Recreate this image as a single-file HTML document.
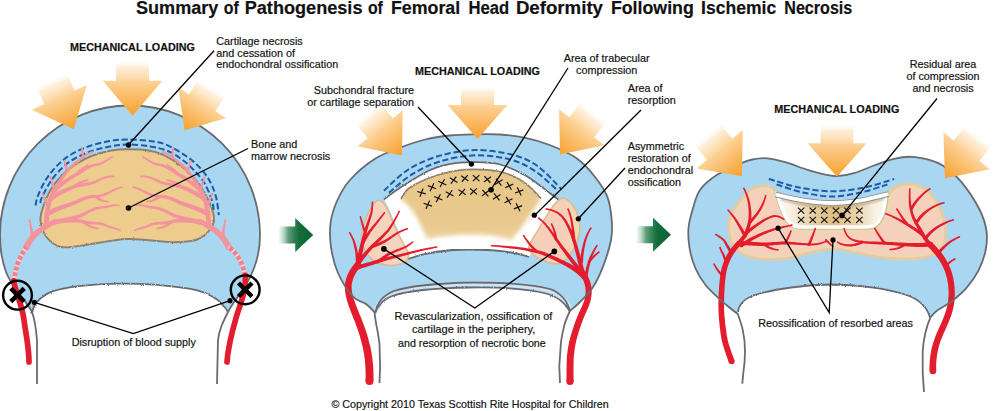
<!DOCTYPE html>
<html><head><meta charset="utf-8">
<style>
html,body{margin:0;padding:0;background:#fff;}
body{width:993px;height:411px;overflow:hidden;font-family:"Liberation Sans",sans-serif;}
svg{display:block}
text{font-family:"Liberation Sans",sans-serif;fill:#111;stroke:#111;stroke-width:0.18px}
.t{font-size:10.8px}
.b{font-size:11.2px;font-weight:bold}
.ol{fill:none;stroke:#686b70;stroke-width:1.8}
.ld{stroke:#000;stroke-width:1.3;fill:none}
.dash{fill:none;stroke:#1c5ca8;stroke-width:2;stroke-dasharray:6.2 2.8}
</style></head><body>
<svg width="993" height="411" viewBox="0 0 993 411">
<defs>
<linearGradient id="og" x1="0" y1="-56" x2="0" y2="0" gradientUnits="userSpaceOnUse">
<stop offset="0" stop-color="#fff" stop-opacity="0"/>
<stop offset="0.14" stop-color="#fdebd0" stop-opacity="0.8"/>
<stop offset="0.42" stop-color="#fccf90"/>
<stop offset="1" stop-color="#f8a02e"/>
</linearGradient>
<path id="oa" d="M0,0 L-29,-35 L-16,-35 L-16,-56 L16,-56 L16,-35 L29,-35 Z" fill="url(#og)"/>
<linearGradient id="gg" x1="0" y1="0" x2="36" y2="0" gradientUnits="userSpaceOnUse">
<stop offset="0" stop-color="#fff" stop-opacity="0"/>
<stop offset="0.08" stop-color="#cfe3d6" stop-opacity="0.5"/>
<stop offset="0.3" stop-color="#62a07c"/>
<stop offset="0.5" stop-color="#2b7d50"/>
<stop offset="0.62" stop-color="#146c3c"/>
<stop offset="1" stop-color="#0d6536"/>
</linearGradient>
<path id="ga" d="M0,-8.5 L18,-8.5 L18,-17 L36,0 L18,17 L18,8.500 L0,8.500 Z" fill="url(#gg)"/>
<filter id="fz" x="-5%" y="-5%" width="110%" height="110%">
<feTurbulence type="fractalNoise" baseFrequency="0.9" numOctaves="2" seed="3" result="n"/>
<feDisplacementMap in="SourceGraphic" in2="n" scale="2.2" xChannelSelector="R" yChannelSelector="G"/>
</filter>
<filter id="bl3" x="-10%" y="-10%" width="120%" height="120%"><feGaussianBlur stdDeviation="2.2"/></filter>
<filter id="bl1" x="-10%" y="-10%" width="120%" height="120%"><feGaussianBlur stdDeviation="1.2"/></filter>
</defs>
<rect width="993" height="411" fill="#fff"/>
<g style="font-size:17.6px;font-weight:bold;fill:#000;stroke:#000;stroke-width:0.4px"><text x="136" y="14.4" textLength="82.4" lengthAdjust="spacingAndGlyphs">Summary</text><text x="223.8" y="14.4" textLength="15.0" lengthAdjust="spacingAndGlyphs">of</text><text x="244.7" y="14.4" textLength="117.8" lengthAdjust="spacingAndGlyphs">Pathogenesis</text><text x="367.9" y="14.4" textLength="15.0" lengthAdjust="spacingAndGlyphs">of</text><text x="390.9" y="14.4" textLength="69.3" lengthAdjust="spacingAndGlyphs">Femoral</text><text x="468.4" y="14.4" textLength="40.7" lengthAdjust="spacingAndGlyphs">Head</text><text x="515.9" y="14.4" textLength="87.1" lengthAdjust="spacingAndGlyphs">Deformity</text><text x="610.9" y="14.4" textLength="82.9" lengthAdjust="spacingAndGlyphs">Following</text><text x="701.1" y="14.4" textLength="75.1" lengthAdjust="spacingAndGlyphs">Ischemic</text><text x="784.3" y="14.4" textLength="68.0" lengthAdjust="spacingAndGlyphs">Necrosis</text></g>
<g id="p1">
<path d="M32,312 C26,300 12,288 6,272 C2,261 0,248 0,235 A130,129.5 0 0 1 130,105.5 A130,129.5 0 0 1 260,235 C260,250 257,262 252,273 C246,288 234,300 228,312 Z" fill="#a9d6f1"/>
<path d="M32.0,313.0 C32.4,311.8 33.0,308.0 34.5,305.5 C36.0,303.0 38.0,300.4 41.0,298.0 C44.0,295.6 46.1,293.4 52.4,291.4 C58.7,289.4 67.7,287.5 78.6,286.2 C89.5,284.9 104.7,283.8 117.8,283.6 C130.9,283.4 144.0,283.8 157.1,284.9 C170.2,286.0 186.8,287.9 196.4,290.1 C206.1,292.3 210.3,295.2 215.0,298.0 C219.7,300.8 222.3,304.7 224.5,307.0 C226.7,309.3 227.4,311.2 228.0,312.0 L228,316 L32,316 Z" fill="#fff"/>
<path class="ol" filter="url(#fz)" d="M32.0,313.0 C32.4,311.8 33.0,308.0 34.5,305.5 C36.0,303.0 38.0,300.4 41.0,298.0 C44.0,295.6 46.1,293.4 52.4,291.4 C58.7,289.4 67.7,287.5 78.6,286.2 C89.5,284.9 104.7,283.8 117.8,283.6 C130.9,283.4 144.0,283.8 157.1,284.9 C170.2,286.0 186.8,287.9 196.4,290.1 C206.1,292.3 210.3,295.2 215.0,298.0 C219.7,300.8 222.3,304.7 224.5,307.0 C226.7,309.3 227.4,311.2 228.0,312.0"/>
<path class="ol" d="M37,384 L37,340 C36,328 35,320 32,312 C26,300 12,288 6,272 C2,261 0,248 0,235 A130,129.5 0 0 1 130,105.5 A130,129.5 0 0 1 260,235 C260,250 257,262 252,273 C246,288 234,300 228,312 C223,322 219,330 218,340 L217,384"/>
<path d="M42.8,207.9 C44.4,202.8 47.0,196.1 50.1,190.8 C53.2,185.5 56.8,180.6 61.1,176.2 C65.4,171.8 70.4,167.5 75.7,164.1 C81.0,160.7 87.0,157.7 92.7,155.5 C98.4,153.3 104.2,151.7 110.0,150.7 C115.8,149.7 120.8,149.3 127.5,149.3 C134.2,149.3 143.8,149.7 150.0,150.7 C156.2,151.7 159.3,152.9 164.6,155.5 C169.9,158.1 175.9,161.8 181.6,166.5 C187.3,171.2 194.0,177.4 198.7,183.5 C203.4,189.6 207.0,197.2 209.6,203.0 C212.2,208.8 213.8,213.7 214.0,218.0 C214.2,222.3 213.3,225.4 210.5,229.0 C207.7,232.6 203.5,237.3 197.0,239.5 C190.5,241.7 183.3,242.3 171.7,242.2 C160.1,242.1 142.2,238.5 127.5,239.0 C112.8,239.5 94.3,244.1 83.2,245.4 C72.1,246.7 67.2,248.3 61.1,247.0 C55.0,245.7 50.3,241.7 46.9,237.5 C43.5,233.3 41.2,226.6 40.5,221.7 C39.8,216.8 41.2,213.1 42.8,207.9 Z" fill="#edcc8e"/>
<path d="M42.8,207.9 C44.4,202.8 47.0,196.1 50.1,190.8 C53.2,185.5 56.8,180.6 61.1,176.2 C65.4,171.8 70.4,167.5 75.7,164.1 C81.0,160.7 87.0,157.7 92.7,155.5 C98.4,153.3 104.2,151.7 110.0,150.7 C115.8,149.7 120.8,149.3 127.5,149.3 C134.2,149.3 143.8,149.7 150.0,150.7 C156.2,151.7 159.3,152.9 164.6,155.5 C169.9,158.1 175.9,161.8 181.6,166.5 C187.3,171.2 194.0,177.4 198.7,183.5 C203.4,189.6 207.0,197.2 209.6,203.0 C212.2,208.8 213.8,213.7 214.0,218.0 C214.2,222.3 213.3,225.4 210.5,229.0 C207.7,232.6 203.5,237.3 197.0,239.5 C190.5,241.7 183.3,242.3 171.7,242.2 C160.1,242.1 142.2,238.5 127.5,239.0 C112.8,239.5 94.3,244.1 83.2,245.4 C72.1,246.7 67.2,248.3 61.1,247.0 C55.0,245.7 50.3,241.7 46.9,237.5 C43.5,233.3 41.2,226.6 40.5,221.7 C39.8,216.8 41.2,213.1 42.8,207.9 Z" fill="none" stroke="#8c8270" stroke-width="1.9" filter="url(#fz)"/>
<path class="dash" d="M35.5,205.4 C35.9,203.8 36.2,200.1 38.0,195.7 C39.8,191.2 43.0,184.0 46.5,178.7 C50.0,173.4 54.2,168.4 58.7,164.1 C63.2,159.8 68.0,156.1 73.3,153.1 C78.6,150.1 84.2,147.8 90.3,145.8 C96.4,143.8 103.8,142.1 110.0,141.0 C116.2,139.9 120.8,139.5 127.5,139.5 C134.2,139.5 143.8,140.2 150.0,141.0 C156.2,141.8 159.3,142.1 164.6,144.1 C169.9,146.1 176.3,149.8 181.6,153.1 C186.9,156.4 191.7,159.7 196.2,164.0 C200.7,168.3 205.2,173.4 208.4,178.7 C211.7,184.0 213.9,189.6 215.7,195.7 C217.4,201.8 218.4,211.9 218.9,215.2"/>
<path class="dash" d="M40.4,203.0 C40.6,202.2 40.0,201.5 41.6,198.1 C43.2,194.7 46.7,187.4 50.1,182.3 C53.5,177.2 58.0,171.8 62.3,167.7 C66.6,163.6 70.6,160.8 75.7,158.0 C80.8,155.2 87.0,152.6 92.7,150.7 C98.4,148.8 104.2,147.5 110.0,146.5 C115.8,145.5 120.8,144.5 127.5,144.5 C134.2,144.5 143.4,145.5 150.0,146.5 C156.6,147.5 161.7,148.6 167.0,150.7 C172.3,152.8 177.1,156.0 181.6,159.2 C186.1,162.4 190.0,166.0 193.8,170.1 C197.7,174.2 201.7,178.4 204.7,183.5 C207.7,188.6 210.5,196.1 212.0,200.6 C213.5,205.1 213.4,208.7 213.7,210.3"/>
<g fill="#f3949d"><path d="M29.0,248.5 L29.8,247.0 L30.5,245.7 L31.3,244.4 L32.1,243.1 L32.8,241.9 L33.6,240.8 L34.5,239.7 L35.3,238.6 L36.1,237.6 L37.0,236.7 L37.9,235.8 L38.8,234.9 L39.8,234.0 L40.7,233.2 L41.6,232.5 L42.7,231.8 L43.7,231.1 L44.8,230.4 L45.8,229.7 L46.9,229.0 L48.0,228.4 L49.0,227.7 L50.1,227.1 L51.2,226.4 L52.4,225.8 L53.5,225.2 L54.7,224.6 L55.9,224.0 L53.7,219.4 L52.4,220.0 L51.2,220.6 L50.0,221.3 L48.8,221.9 L47.6,222.5 L46.4,223.1 L45.2,223.8 L44.1,224.5 L43.0,225.1 L41.8,225.8 L40.7,226.5 L39.6,227.2 L38.5,228.0 L37.3,228.8 L36.1,229.7 L35.0,230.7 L33.9,231.7 L32.9,232.7 L31.9,233.8 L30.9,234.9 L29.9,236.1 L28.9,237.3 L28.0,238.5 L27.1,239.8 L26.2,241.2 L25.3,242.6 L24.4,244.0 L23.6,245.5Z"/><circle cx="26.3" cy="247.0" r="3.08"/><circle cx="54.8" cy="221.7" r="2.52"/>
<path d="M48.5,226.7 L48.6,225.1 L48.7,223.5 L48.8,221.9 L48.9,220.4 L49.0,218.9 L49.1,217.4 L49.2,215.9 L49.3,214.5 L49.5,213.1 L49.6,211.7 L49.8,210.3 L50.0,209.0 L50.3,207.7 L50.5,206.4 L50.8,205.0 L51.1,203.6 L51.5,202.3 L51.8,201.1 L52.2,199.9 L52.6,198.7 L53.0,197.6 L53.4,196.6 L53.9,195.5 L54.3,194.6 L54.8,193.6 L55.3,192.8 L55.8,191.9 L56.4,190.9 L57.2,189.4 L58.0,187.9 L58.8,186.5 L59.6,185.1 L60.4,183.7 L61.2,182.4 L62.0,181.0 L62.9,179.7 L63.8,178.4 L64.7,177.1 L65.6,175.8 L66.6,174.5 L67.5,173.2 L68.5,171.9 L69.5,170.8 L70.5,169.7 L71.5,168.6 L72.5,167.5 L73.6,166.4 L74.6,165.4 L75.7,164.4 L76.8,163.4 L78.0,162.4 L79.1,161.5 L80.3,160.5 L81.5,159.6 L82.6,158.7 L83.8,157.8 L84.4,157.4 L85.0,157.0 L85.6,156.6 L86.2,156.2 L86.8,155.8 L87.4,155.5 L88.1,155.1 L88.7,154.7 L89.4,154.4 L90.0,154.0 L90.7,153.6 L91.4,153.3 L92.1,153.0 L92.9,152.6 L92.1,151.0 L91.4,151.3 L90.6,151.6 L89.9,151.9 L89.2,152.3 L88.5,152.6 L87.8,153.0 L87.1,153.3 L86.4,153.7 L85.8,154.1 L85.1,154.4 L84.5,154.8 L83.8,155.2 L83.2,155.6 L82.6,156.0 L81.3,156.9 L80.1,157.8 L78.9,158.7 L77.6,159.6 L76.4,160.5 L75.2,161.5 L74.0,162.5 L72.9,163.5 L71.7,164.5 L70.6,165.5 L69.5,166.6 L68.4,167.7 L67.3,168.9 L66.3,170.1 L65.2,171.4 L64.2,172.6 L63.1,173.9 L62.1,175.2 L61.2,176.5 L60.2,177.9 L59.3,179.2 L58.3,180.6 L57.4,181.9 L56.6,183.3 L55.7,184.7 L54.8,186.2 L54.0,187.6 L53.2,189.1 L52.6,189.9 L52.0,190.8 L51.4,191.8 L50.9,192.8 L50.3,193.9 L49.8,195.0 L49.3,196.1 L48.8,197.3 L48.4,198.5 L47.9,199.8 L47.5,201.1 L47.1,202.5 L46.7,203.9 L46.3,205.4 L46.0,206.8 L45.7,208.2 L45.4,209.6 L45.2,211.0 L44.9,212.5 L44.7,213.9 L44.5,215.4 L44.4,216.9 L44.2,218.5 L44.0,220.0 L43.9,221.6 L43.8,223.1 L43.6,224.7 L43.5,226.3Z"/><circle cx="46.0" cy="226.5" r="2.52"/><circle cx="92.5" cy="151.8" r="0.91"/>
<path d="M49.6,205.3 L49.1,204.5 L48.5,203.6 L48.0,202.8 L47.5,202.0 L47.0,201.1 L46.6,200.3 L46.1,199.5 L45.7,198.6 L45.2,197.7 L44.8,196.9 L44.4,196.0 L44.0,195.1 L43.6,194.2 L43.3,193.2 L41.7,193.8 L42.0,194.7 L42.3,195.7 L42.7,196.7 L43.0,197.6 L43.4,198.6 L43.7,199.5 L44.1,200.4 L44.5,201.3 L44.9,202.2 L45.4,203.1 L45.8,204.0 L46.3,204.9 L46.7,205.8 L47.2,206.7Z"/><circle cx="48.4" cy="206.0" r="1.40"/><circle cx="42.5" cy="193.5" r="0.80"/>
<path d="M56.1,189.5 L55.7,188.5 L55.3,187.5 L54.9,186.5 L54.5,185.5 L54.1,184.6 L53.7,183.7 L53.4,182.8 L53.0,181.9 L52.7,181.0 L52.4,180.2 L52.1,179.3 L51.8,178.5 L51.5,177.6 L51.3,176.8 L49.7,177.2 L49.9,178.1 L50.1,179.0 L50.3,179.8 L50.6,180.7 L50.8,181.6 L51.1,182.5 L51.3,183.5 L51.6,184.4 L51.9,185.4 L52.2,186.3 L52.5,187.3 L52.8,188.4 L53.1,189.4 L53.5,190.5Z"/><circle cx="54.8" cy="190.0" r="1.40"/><circle cx="50.5" cy="177.0" r="0.80"/>
<path d="M68.7,170.5 L68.4,169.7 L68.1,168.9 L67.7,168.1 L67.5,167.3 L67.2,166.6 L66.9,165.8 L66.6,165.1 L66.4,164.4 L66.2,163.7 L66.0,163.0 L65.8,162.3 L65.6,161.6 L65.4,161.0 L65.3,160.4 L63.7,160.6 L63.8,161.3 L63.9,162.0 L64.0,162.7 L64.1,163.4 L64.3,164.1 L64.4,164.9 L64.6,165.7 L64.8,166.4 L64.9,167.2 L65.1,168.1 L65.4,168.9 L65.6,169.7 L65.8,170.6 L66.1,171.5Z"/><circle cx="67.4" cy="171.0" r="1.40"/><circle cx="64.5" cy="160.5" r="0.80"/>
<path d="M84.4,156.6 L84.3,155.9 L84.1,155.2 L83.9,154.6 L83.8,153.9 L83.6,153.2 L83.5,152.6 L83.3,151.9 L83.2,151.3 L83.1,150.6 L83.0,150.0 L83.0,149.4 L82.9,148.7 L82.8,148.1 L82.8,147.5 L81.2,147.5 L81.2,148.2 L81.2,148.8 L81.2,149.5 L81.2,150.2 L81.2,150.8 L81.3,151.5 L81.3,152.2 L81.4,152.9 L81.5,153.6 L81.6,154.3 L81.6,155.0 L81.7,155.7 L81.9,156.4 L82.0,157.2Z"/><circle cx="83.2" cy="156.9" r="1.26"/><circle cx="82.0" cy="147.5" r="0.80"/>
<path d="M33.7,238.0 L33.6,236.7 L33.5,235.4 L33.4,234.0 L33.2,232.7 L33.0,231.4 L32.8,230.1 L32.5,228.8 L32.3,227.5 L32.0,226.2 L31.7,224.9 L31.4,223.7 L31.0,222.4 L30.7,221.1 L30.3,219.8 L28.7,220.2 L29.0,221.5 L29.2,222.8 L29.4,224.1 L29.6,225.3 L29.8,226.6 L29.9,227.9 L30.1,229.2 L30.2,230.5 L30.3,231.7 L30.3,233.0 L30.4,234.2 L30.4,235.5 L30.4,236.8 L30.3,238.0Z"/><circle cx="32.0" cy="238.0" r="1.68"/><circle cx="29.5" cy="220.0" r="0.80"/>
<path d="M56.3,191.6 L57.6,190.3 L59.0,189.1 L60.4,187.8 L61.8,186.6 L63.3,185.4 L64.8,184.2 L66.3,183.1 L67.9,181.9 L69.5,180.8 L71.1,179.7 L72.8,178.7 L74.4,177.6 L76.0,176.6 L77.7,175.7 L79.0,174.9 L80.3,174.1 L81.6,173.3 L82.8,172.4 L84.0,171.6 L85.2,170.8 L86.5,170.0 L87.7,169.2 L89.0,168.5 L90.3,167.9 L91.6,167.3 L93.0,166.8 L94.5,166.3 L96.0,166.0 L97.3,165.8 L98.7,165.4 L100.0,165.0 L101.3,164.5 L102.5,163.9 L103.7,163.3 L104.8,162.6 L106.0,161.9 L107.1,161.2 L108.2,160.5 L109.3,159.8 L110.3,159.1 L111.4,158.4 L112.4,157.7 L111.6,156.3 L110.5,156.9 L109.4,157.6 L108.3,158.2 L107.2,158.9 L106.1,159.6 L105.0,160.2 L103.9,160.8 L102.7,161.4 L101.6,161.9 L100.4,162.4 L99.3,162.8 L98.1,163.1 L96.9,163.4 L95.6,163.6 L93.9,163.9 L92.2,164.3 L90.7,164.8 L89.2,165.4 L87.7,166.0 L86.3,166.8 L85.0,167.5 L83.7,168.3 L82.4,169.1 L81.1,169.9 L79.9,170.6 L78.6,171.4 L77.4,172.1 L76.1,172.7 L74.4,173.7 L72.6,174.6 L70.9,175.6 L69.2,176.6 L67.5,177.7 L65.8,178.8 L64.1,179.9 L62.4,181.0 L60.8,182.2 L59.2,183.4 L57.7,184.6 L56.1,185.8 L54.7,187.1 L53.3,188.4Z"/><circle cx="54.8" cy="190.0" r="2.24"/><circle cx="112.0" cy="157.0" r="0.84"/>
<path d="M51.9,200.9 L53.3,199.8 L54.7,198.8 L56.1,197.8 L57.6,196.9 L59.2,195.9 L60.8,195.0 L62.4,194.1 L64.1,193.2 L65.7,192.4 L67.4,191.6 L69.2,190.8 L70.9,190.0 L72.6,189.3 L74.3,188.6 L76.0,188.0 L77.6,187.5 L79.2,187.1 L80.8,186.8 L82.5,186.4 L84.1,186.2 L85.7,185.9 L87.3,185.5 L89.0,185.2 L90.7,184.8 L92.4,184.3 L94.1,183.7 L95.8,183.0 L97.5,182.1 L98.8,181.5 L100.0,180.8 L101.2,180.3 L102.4,179.7 L103.5,179.3 L104.7,178.8 L105.8,178.4 L106.9,178.1 L108.1,177.8 L109.2,177.6 L110.3,177.4 L111.5,177.3 L112.7,177.3 L114.0,177.3 L114.0,175.7 L112.8,175.6 L111.5,175.5 L110.2,175.6 L108.9,175.7 L107.7,175.9 L106.4,176.1 L105.2,176.4 L104.0,176.8 L102.8,177.2 L101.5,177.7 L100.3,178.2 L99.0,178.7 L97.7,179.3 L96.5,179.9 L94.8,180.6 L93.2,181.2 L91.6,181.7 L90.0,182.0 L88.4,182.4 L86.8,182.6 L85.2,182.9 L83.6,183.1 L81.9,183.3 L80.3,183.6 L78.5,183.9 L76.8,184.2 L75.0,184.7 L73.1,185.2 L71.3,185.9 L69.5,186.5 L67.7,187.3 L65.9,188.0 L64.1,188.8 L62.3,189.5 L60.5,190.4 L58.8,191.2 L57.1,192.1 L55.4,193.1 L53.7,194.0 L52.1,195.0 L50.6,196.0 L49.1,197.1Z"/><circle cx="50.5" cy="199.0" r="2.38"/><circle cx="114.0" cy="176.5" r="0.84"/>
<path d="M48.2,216.2 L49.7,215.3 L51.2,214.5 L52.7,213.7 L54.2,213.0 L55.8,212.2 L57.4,211.5 L59.0,210.8 L60.7,210.1 L62.4,209.4 L64.1,208.7 L65.8,208.1 L67.6,207.4 L69.4,206.8 L71.2,206.2 L73.1,205.5 L74.9,204.7 L76.6,203.9 L78.3,203.1 L80.0,202.3 L81.7,201.5 L83.3,200.7 L85.0,200.0 L86.7,199.4 L88.4,198.8 L90.1,198.4 L91.9,198.1 L93.8,197.9 L95.8,197.8 L97.9,197.7 L99.9,197.3 L101.9,196.8 L103.9,196.1 L105.8,195.3 L107.6,194.4 L109.5,193.5 L111.3,192.5 L113.1,191.6 L114.9,190.7 L116.7,189.8 L118.5,189.0 L120.3,188.4 L122.2,187.8 L121.8,186.2 L119.8,186.7 L117.9,187.3 L115.9,188.0 L114.1,188.8 L112.2,189.7 L110.3,190.6 L108.5,191.5 L106.6,192.3 L104.8,193.1 L103.0,193.7 L101.2,194.3 L99.4,194.7 L97.6,194.9 L95.8,195.0 L93.7,194.9 L91.6,195.1 L89.5,195.3 L87.6,195.8 L85.7,196.3 L83.8,196.9 L82.0,197.6 L80.3,198.3 L78.5,199.0 L76.8,199.8 L75.1,200.5 L73.4,201.2 L71.7,201.8 L70.0,202.4 L68.1,203.0 L66.3,203.5 L64.5,204.1 L62.7,204.7 L60.9,205.3 L59.1,205.9 L57.4,206.6 L55.6,207.2 L53.9,207.9 L52.2,208.6 L50.6,209.4 L48.9,210.2 L47.3,211.0 L45.8,211.8Z"/><circle cx="47.0" cy="214.0" r="2.52"/><circle cx="122.0" cy="187.0" r="0.84"/>
<path d="M52.6,225.3 L54.3,224.8 L56.0,224.4 L57.7,223.9 L59.5,223.4 L61.3,223.0 L63.0,222.5 L64.8,222.0 L66.6,221.6 L68.4,221.1 L70.2,220.6 L72.0,220.1 L73.7,219.6 L75.5,219.1 L77.4,218.6 L79.3,218.0 L81.1,217.3 L82.9,216.4 L84.6,215.5 L86.3,214.6 L88.0,213.7 L89.6,212.8 L91.3,212.0 L93.0,211.2 L94.7,210.4 L96.5,209.8 L98.3,209.3 L100.2,208.9 L102.3,208.6 L103.8,208.5 L105.2,208.2 L106.6,208.0 L107.9,207.7 L109.1,207.3 L110.3,207.0 L111.5,206.7 L112.6,206.5 L113.7,206.2 L114.8,206.1 L115.8,206.0 L116.8,206.0 L117.8,206.1 L118.8,206.3 L119.2,204.7 L118.1,204.4 L116.9,204.2 L115.8,204.2 L114.6,204.2 L113.4,204.3 L112.2,204.5 L111.1,204.7 L109.9,205.0 L108.6,205.3 L107.4,205.5 L106.1,205.8 L104.8,206.0 L103.5,206.1 L102.1,206.2 L99.9,206.4 L97.8,206.7 L95.7,207.2 L93.7,207.8 L91.9,208.5 L90.0,209.3 L88.3,210.1 L86.5,211.0 L84.8,211.8 L83.2,212.6 L81.5,213.4 L79.8,214.0 L78.1,214.7 L76.4,215.2 L74.7,215.5 L72.8,216.0 L71.0,216.4 L69.2,216.8 L67.4,217.2 L65.6,217.6 L63.8,217.9 L62.0,218.3 L60.2,218.7 L58.4,219.1 L56.7,219.5 L54.9,219.9 L53.2,220.3 L51.4,220.7Z"/><circle cx="52.0" cy="223.0" r="2.38"/><circle cx="119.0" cy="205.5" r="0.84"/>
<path d="M55.0,223.9 L57.0,223.7 L59.0,223.5 L61.0,223.3 L63.0,223.1 L65.0,222.9 L67.1,222.7 L69.1,222.6 L71.1,222.5 L73.1,222.4 L75.1,222.4 L77.0,222.5 L79.0,222.7 L80.9,222.9 L82.8,223.3 L84.7,223.7 L86.6,224.0 L88.5,224.2 L90.2,224.3 L91.9,224.4 L93.6,224.5 L95.2,224.5 L96.7,224.6 L98.3,224.7 L99.7,224.9 L101.2,225.1 L102.6,225.5 L104.1,225.9 L105.5,226.5 L106.6,227.0 L107.7,227.5 L108.9,227.8 L110.0,228.2 L111.0,228.4 L112.1,228.7 L113.1,229.0 L114.1,229.2 L115.1,229.5 L116.1,229.7 L117.0,230.0 L117.9,230.4 L118.7,230.8 L119.6,231.2 L120.4,229.8 L119.5,229.2 L118.6,228.8 L117.6,228.3 L116.6,228.0 L115.6,227.6 L114.6,227.3 L113.6,227.0 L112.6,226.8 L111.6,226.5 L110.6,226.1 L109.5,225.8 L108.5,225.4 L107.5,225.0 L106.5,224.5 L104.9,223.7 L103.4,223.1 L101.8,222.7 L100.2,222.3 L98.6,222.1 L97.0,221.9 L95.4,221.8 L93.7,221.6 L92.1,221.5 L90.5,221.4 L88.8,221.2 L87.1,220.9 L85.4,220.6 L83.6,220.1 L81.5,219.6 L79.4,219.3 L77.3,219.0 L75.2,218.8 L73.1,218.7 L71.0,218.7 L68.9,218.7 L66.8,218.7 L64.7,218.8 L62.7,218.9 L60.6,219.1 L58.6,219.2 L56.6,219.3 L54.6,219.5Z"/><circle cx="54.8" cy="221.7" r="2.24"/><circle cx="120.0" cy="230.5" r="0.84"/>
<path d="M78.1,175.2 L78.7,174.4 L79.3,173.6 L80.0,172.9 L80.7,172.2 L81.4,171.4 L82.1,170.7 L82.8,170.1 L83.6,169.4 L84.4,168.7 L85.2,168.1 L86.0,167.5 L86.8,166.9 L87.6,166.3 L88.4,165.7 L87.6,164.3 L86.7,164.8 L85.8,165.3 L84.9,165.9 L84.0,166.4 L83.1,167.0 L82.2,167.6 L81.4,168.2 L80.5,168.9 L79.7,169.5 L78.8,170.2 L78.0,170.9 L77.2,171.7 L76.5,172.4 L75.7,173.2Z"/><circle cx="76.9" cy="174.2" r="1.54"/><circle cx="88.0" cy="165.0" r="0.80"/>
<path d="M94.8,197.5 L95.5,198.2 L96.3,198.8 L97.2,199.4 L98.0,199.9 L98.9,200.4 L99.8,200.8 L100.8,201.2 L101.7,201.5 L102.7,201.8 L103.7,202.0 L104.8,202.2 L105.8,202.3 L106.9,202.3 L108.0,202.3 L108.0,200.7 L107.0,200.6 L106.0,200.5 L105.1,200.3 L104.2,200.0 L103.3,199.7 L102.5,199.4 L101.7,199.0 L100.9,198.6 L100.2,198.1 L99.5,197.6 L98.8,197.1 L98.1,196.5 L97.5,195.9 L96.8,195.3Z"/><circle cx="95.8" cy="196.4" r="1.54"/><circle cx="108.0" cy="201.5" r="0.80"/>
<path d="M82.2,222.9 L83.3,223.7 L84.4,224.5 L85.5,225.3 L86.7,226.0 L87.8,226.6 L88.9,227.1 L90.1,227.6 L91.2,228.0 L92.3,228.3 L93.4,228.6 L94.6,228.9 L95.7,229.1 L96.8,229.2 L97.9,229.3 L98.1,227.7 L97.0,227.5 L96.0,227.3 L95.0,227.0 L94.0,226.7 L93.0,226.4 L92.0,225.9 L91.0,225.5 L90.0,225.0 L89.0,224.4 L88.0,223.7 L87.1,223.0 L86.1,222.3 L85.2,221.4 L84.2,220.5Z"/><circle cx="83.2" cy="221.7" r="1.54"/><circle cx="98.0" cy="228.5" r="0.80"/>
<path d="M74.7,188.1 L75.6,187.2 L76.4,186.5 L77.3,185.8 L78.2,185.1 L79.2,184.5 L80.1,183.9 L81.1,183.4 L82.1,182.9 L83.0,182.5 L84.0,182.1 L85.1,181.7 L86.1,181.4 L87.1,181.1 L88.2,180.8 L87.8,179.2 L86.7,179.4 L85.6,179.6 L84.5,179.9 L83.4,180.2 L82.3,180.5 L81.2,180.9 L80.1,181.3 L79.0,181.8 L77.9,182.3 L76.8,182.9 L75.8,183.5 L74.7,184.2 L73.7,184.9 L72.7,185.7Z"/><circle cx="73.7" cy="186.9" r="1.54"/><circle cx="88.0" cy="180.0" r="0.80"/>
<path d="M231.4,245.5 L230.6,244.0 L229.7,242.6 L228.8,241.2 L227.9,239.8 L227.0,238.5 L226.1,237.3 L225.1,236.1 L224.1,234.9 L223.1,233.8 L222.1,232.7 L221.1,231.7 L220.0,230.7 L218.9,229.7 L217.7,228.8 L216.5,228.0 L215.4,227.2 L214.3,226.5 L213.2,225.8 L212.0,225.1 L210.9,224.5 L209.8,223.8 L208.6,223.1 L207.4,222.5 L206.2,221.9 L205.0,221.3 L203.8,220.6 L202.6,220.0 L201.3,219.4 L199.1,224.0 L200.3,224.6 L201.5,225.2 L202.6,225.8 L203.8,226.4 L204.9,227.1 L206.0,227.7 L207.0,228.4 L208.1,229.0 L209.2,229.7 L210.2,230.4 L211.3,231.1 L212.3,231.8 L213.4,232.5 L214.3,233.2 L215.2,234.0 L216.2,234.9 L217.1,235.8 L218.0,236.7 L218.9,237.6 L219.7,238.6 L220.5,239.7 L221.4,240.8 L222.2,241.9 L222.9,243.1 L223.7,244.4 L224.5,245.7 L225.2,247.0 L226.0,248.5Z"/><circle cx="228.7" cy="247.0" r="3.08"/><circle cx="200.2" cy="221.7" r="2.52"/>
<path d="M211.5,226.3 L211.4,224.7 L211.2,223.1 L211.1,221.6 L211.0,220.0 L210.8,218.5 L210.6,216.9 L210.5,215.4 L210.3,213.9 L210.1,212.5 L209.8,211.0 L209.6,209.6 L209.3,208.2 L209.0,206.8 L208.7,205.4 L208.3,203.9 L207.9,202.5 L207.5,201.1 L207.1,199.8 L206.6,198.5 L206.2,197.3 L205.7,196.1 L205.2,195.0 L204.7,193.9 L204.1,192.8 L203.6,191.8 L203.0,190.8 L202.4,189.9 L201.8,189.1 L201.0,187.6 L200.2,186.2 L199.3,184.7 L198.4,183.3 L197.6,181.9 L196.7,180.6 L195.7,179.2 L194.8,177.9 L193.8,176.5 L192.9,175.2 L191.9,173.9 L190.8,172.6 L189.8,171.4 L188.7,170.1 L187.7,168.9 L186.6,167.7 L185.5,166.6 L184.4,165.5 L183.3,164.5 L182.1,163.5 L181.0,162.5 L179.8,161.5 L178.6,160.5 L177.4,159.6 L176.1,158.7 L174.9,157.8 L173.7,156.9 L172.4,156.0 L171.8,155.6 L171.2,155.2 L170.5,154.8 L169.9,154.4 L169.2,154.1 L168.6,153.7 L167.9,153.3 L167.2,153.0 L166.5,152.6 L165.8,152.3 L165.1,151.9 L164.4,151.6 L163.6,151.3 L162.9,151.0 L162.1,152.6 L162.9,153.0 L163.6,153.3 L164.3,153.6 L165.0,154.0 L165.6,154.4 L166.3,154.7 L166.9,155.1 L167.6,155.5 L168.2,155.8 L168.8,156.2 L169.4,156.6 L170.0,157.0 L170.6,157.4 L171.2,157.8 L172.4,158.7 L173.5,159.6 L174.7,160.5 L175.9,161.5 L177.0,162.4 L178.2,163.4 L179.3,164.4 L180.4,165.4 L181.4,166.4 L182.5,167.5 L183.5,168.6 L184.5,169.7 L185.5,170.8 L186.5,171.9 L187.5,173.2 L188.4,174.5 L189.4,175.8 L190.3,177.1 L191.2,178.4 L192.1,179.7 L193.0,181.0 L193.8,182.4 L194.6,183.7 L195.4,185.1 L196.2,186.5 L197.0,187.9 L197.8,189.4 L198.6,190.9 L199.2,191.9 L199.7,192.8 L200.2,193.6 L200.7,194.6 L201.1,195.5 L201.6,196.6 L202.0,197.6 L202.4,198.7 L202.8,199.9 L203.2,201.1 L203.5,202.3 L203.9,203.6 L204.2,205.0 L204.5,206.4 L204.7,207.7 L205.0,209.0 L205.2,210.3 L205.4,211.7 L205.5,213.1 L205.7,214.5 L205.8,215.9 L205.9,217.4 L206.0,218.9 L206.1,220.4 L206.2,221.9 L206.3,223.5 L206.4,225.1 L206.5,226.7Z"/><circle cx="209.0" cy="226.5" r="2.52"/><circle cx="162.5" cy="151.8" r="0.91"/>
<path d="M207.8,206.7 L208.3,205.8 L208.7,204.9 L209.2,204.0 L209.6,203.1 L210.1,202.2 L210.5,201.3 L210.9,200.4 L211.3,199.5 L211.6,198.6 L212.0,197.6 L212.3,196.7 L212.7,195.7 L213.0,194.7 L213.3,193.8 L211.7,193.2 L211.4,194.2 L211.0,195.1 L210.6,196.0 L210.2,196.9 L209.8,197.7 L209.3,198.6 L208.9,199.5 L208.4,200.3 L208.0,201.1 L207.5,202.0 L207.0,202.8 L206.5,203.6 L205.9,204.5 L205.4,205.3Z"/><circle cx="206.6" cy="206.0" r="1.40"/><circle cx="212.5" cy="193.5" r="0.80"/>
<path d="M201.5,190.5 L201.9,189.4 L202.2,188.4 L202.5,187.3 L202.8,186.3 L203.1,185.4 L203.4,184.4 L203.7,183.5 L203.9,182.5 L204.2,181.6 L204.4,180.7 L204.7,179.8 L204.9,179.0 L205.1,178.1 L205.3,177.2 L203.7,176.8 L203.5,177.6 L203.2,178.5 L202.9,179.3 L202.6,180.2 L202.3,181.0 L202.0,181.9 L201.6,182.8 L201.3,183.7 L200.9,184.6 L200.5,185.5 L200.1,186.5 L199.7,187.5 L199.3,188.5 L198.9,189.5Z"/><circle cx="200.2" cy="190.0" r="1.40"/><circle cx="204.5" cy="177.0" r="0.80"/>
<path d="M188.9,171.5 L189.2,170.6 L189.4,169.7 L189.6,168.9 L189.9,168.1 L190.1,167.2 L190.2,166.4 L190.4,165.7 L190.6,164.9 L190.7,164.1 L190.9,163.4 L191.0,162.7 L191.1,162.0 L191.2,161.3 L191.3,160.6 L189.7,160.4 L189.6,161.0 L189.4,161.6 L189.2,162.3 L189.0,163.0 L188.8,163.7 L188.6,164.4 L188.4,165.1 L188.1,165.8 L187.8,166.6 L187.5,167.3 L187.3,168.1 L186.9,168.9 L186.6,169.7 L186.3,170.5Z"/><circle cx="187.6" cy="171.0" r="1.40"/><circle cx="190.5" cy="160.5" r="0.80"/>
<path d="M173.0,157.2 L173.1,156.4 L173.3,155.7 L173.4,155.0 L173.4,154.3 L173.5,153.6 L173.6,152.9 L173.7,152.2 L173.7,151.5 L173.8,150.8 L173.8,150.2 L173.8,149.5 L173.8,148.8 L173.8,148.2 L173.8,147.5 L172.2,147.5 L172.2,148.1 L172.1,148.7 L172.0,149.4 L172.0,150.0 L171.9,150.6 L171.8,151.3 L171.7,151.9 L171.5,152.6 L171.4,153.2 L171.2,153.9 L171.1,154.6 L170.9,155.2 L170.7,155.9 L170.6,156.6Z"/><circle cx="171.8" cy="156.9" r="1.26"/><circle cx="173.0" cy="147.5" r="0.80"/>
<path d="M224.7,238.0 L224.6,236.8 L224.6,235.5 L224.6,234.2 L224.7,233.0 L224.7,231.7 L224.8,230.5 L224.9,229.2 L225.1,227.9 L225.2,226.6 L225.4,225.3 L225.6,224.1 L225.8,222.8 L226.0,221.5 L226.3,220.2 L224.7,219.8 L224.3,221.1 L224.0,222.4 L223.6,223.7 L223.3,224.9 L223.0,226.2 L222.7,227.5 L222.5,228.8 L222.2,230.1 L222.0,231.4 L221.8,232.7 L221.6,234.0 L221.5,235.4 L221.4,236.7 L221.3,238.0Z"/><circle cx="223.0" cy="238.0" r="1.68"/><circle cx="225.5" cy="220.0" r="0.80"/>
<path d="M201.7,188.4 L200.3,187.1 L198.9,185.8 L197.3,184.6 L195.8,183.4 L194.2,182.2 L192.6,181.0 L190.9,179.9 L189.2,178.8 L187.5,177.7 L185.8,176.6 L184.1,175.6 L182.4,174.6 L180.6,173.7 L178.9,172.7 L177.6,172.1 L176.4,171.4 L175.1,170.6 L173.9,169.9 L172.6,169.1 L171.3,168.3 L170.0,167.5 L168.7,166.8 L167.3,166.0 L165.8,165.4 L164.3,164.8 L162.8,164.3 L161.1,163.9 L159.4,163.6 L158.1,163.4 L156.9,163.1 L155.7,162.8 L154.6,162.4 L153.4,161.9 L152.3,161.4 L151.1,160.8 L150.0,160.2 L148.9,159.6 L147.8,158.9 L146.7,158.2 L145.6,157.6 L144.5,156.9 L143.4,156.3 L142.6,157.7 L143.6,158.4 L144.7,159.1 L145.7,159.8 L146.8,160.5 L147.9,161.2 L149.0,161.9 L150.2,162.6 L151.3,163.3 L152.5,163.9 L153.7,164.5 L155.0,165.0 L156.3,165.4 L157.7,165.8 L159.0,166.0 L160.5,166.3 L162.0,166.8 L163.4,167.3 L164.7,167.9 L166.0,168.5 L167.3,169.2 L168.5,170.0 L169.8,170.8 L171.0,171.6 L172.2,172.4 L173.4,173.3 L174.7,174.1 L176.0,174.9 L177.3,175.7 L179.0,176.6 L180.6,177.6 L182.2,178.7 L183.9,179.7 L185.5,180.8 L187.1,181.9 L188.7,183.1 L190.2,184.2 L191.7,185.4 L193.2,186.6 L194.6,187.8 L196.0,189.1 L197.4,190.3 L198.7,191.6Z"/><circle cx="200.2" cy="190.0" r="2.24"/><circle cx="143.0" cy="157.0" r="0.84"/>
<path d="M205.9,197.1 L204.4,196.0 L202.9,195.0 L201.3,194.0 L199.6,193.1 L197.9,192.1 L196.2,191.2 L194.5,190.4 L192.7,189.5 L190.9,188.8 L189.1,188.0 L187.3,187.3 L185.5,186.5 L183.7,185.9 L181.9,185.2 L180.0,184.7 L178.2,184.2 L176.5,183.9 L174.7,183.6 L173.1,183.3 L171.4,183.1 L169.8,182.9 L168.2,182.6 L166.6,182.4 L165.0,182.0 L163.4,181.7 L161.8,181.2 L160.2,180.6 L158.5,179.9 L157.3,179.3 L156.0,178.7 L154.7,178.2 L153.5,177.7 L152.2,177.2 L151.0,176.8 L149.8,176.4 L148.6,176.1 L147.3,175.9 L146.1,175.7 L144.8,175.6 L143.5,175.5 L142.2,175.6 L141.0,175.7 L141.0,177.3 L142.3,177.3 L143.5,177.3 L144.7,177.4 L145.8,177.6 L146.9,177.8 L148.1,178.1 L149.2,178.4 L150.3,178.8 L151.5,179.3 L152.6,179.7 L153.8,180.3 L155.0,180.8 L156.2,181.5 L157.5,182.1 L159.2,183.0 L160.9,183.7 L162.6,184.3 L164.3,184.8 L166.0,185.2 L167.7,185.5 L169.3,185.9 L170.9,186.2 L172.5,186.4 L174.2,186.8 L175.8,187.1 L177.4,187.5 L179.0,188.0 L180.7,188.6 L182.4,189.3 L184.1,190.0 L185.8,190.8 L187.6,191.6 L189.3,192.4 L190.9,193.2 L192.6,194.1 L194.2,195.0 L195.8,195.9 L197.4,196.9 L198.9,197.8 L200.3,198.8 L201.7,199.8 L203.1,200.9Z"/><circle cx="204.5" cy="199.0" r="2.38"/><circle cx="141.0" cy="176.5" r="0.84"/>
<path d="M209.2,211.8 L207.7,211.0 L206.1,210.2 L204.4,209.4 L202.8,208.6 L201.1,207.9 L199.4,207.2 L197.6,206.6 L195.9,205.9 L194.1,205.3 L192.3,204.7 L190.5,204.1 L188.7,203.5 L186.9,203.0 L185.0,202.4 L183.3,201.8 L181.6,201.2 L179.9,200.5 L178.2,199.8 L176.5,199.0 L174.7,198.3 L173.0,197.6 L171.2,196.9 L169.3,196.3 L167.4,195.8 L165.5,195.3 L163.4,195.1 L161.3,194.9 L159.2,195.0 L157.4,194.9 L155.6,194.7 L153.8,194.3 L152.0,193.7 L150.2,193.1 L148.4,192.3 L146.5,191.5 L144.7,190.6 L142.8,189.7 L140.9,188.8 L139.1,188.0 L137.1,187.3 L135.2,186.7 L133.2,186.2 L132.8,187.8 L134.7,188.4 L136.5,189.0 L138.3,189.8 L140.1,190.7 L141.9,191.6 L143.7,192.5 L145.5,193.5 L147.4,194.4 L149.2,195.3 L151.1,196.1 L153.1,196.8 L155.1,197.3 L157.1,197.7 L159.2,197.8 L161.2,197.9 L163.1,198.1 L164.9,198.4 L166.6,198.8 L168.3,199.4 L170.0,200.0 L171.7,200.7 L173.3,201.5 L175.0,202.3 L176.7,203.1 L178.4,203.9 L180.1,204.7 L181.9,205.5 L183.8,206.2 L185.6,206.8 L187.4,207.4 L189.2,208.1 L190.9,208.7 L192.6,209.4 L194.3,210.1 L196.0,210.8 L197.6,211.5 L199.2,212.2 L200.8,213.0 L202.3,213.7 L203.8,214.5 L205.3,215.3 L206.8,216.2Z"/><circle cx="208.0" cy="214.0" r="2.52"/><circle cx="133.0" cy="187.0" r="0.84"/>
<path d="M203.6,220.7 L201.8,220.3 L200.1,219.9 L198.3,219.5 L196.6,219.1 L194.8,218.7 L193.0,218.3 L191.2,217.9 L189.4,217.6 L187.6,217.2 L185.8,216.8 L184.0,216.4 L182.2,216.0 L180.3,215.5 L178.6,215.2 L176.9,214.7 L175.2,214.0 L173.5,213.4 L171.8,212.6 L170.2,211.8 L168.5,211.0 L166.7,210.1 L165.0,209.3 L163.1,208.5 L161.3,207.8 L159.3,207.2 L157.2,206.7 L155.1,206.4 L152.9,206.2 L151.5,206.1 L150.2,206.0 L148.9,205.8 L147.6,205.5 L146.4,205.3 L145.1,205.0 L143.9,204.7 L142.8,204.5 L141.6,204.3 L140.4,204.2 L139.2,204.2 L138.1,204.2 L136.9,204.4 L135.8,204.7 L136.2,206.3 L137.2,206.1 L138.2,206.0 L139.2,206.0 L140.2,206.1 L141.3,206.2 L142.4,206.5 L143.5,206.7 L144.7,207.0 L145.9,207.3 L147.1,207.7 L148.4,208.0 L149.8,208.2 L151.2,208.5 L152.7,208.6 L154.8,208.9 L156.7,209.3 L158.5,209.8 L160.3,210.4 L162.0,211.2 L163.7,212.0 L165.4,212.8 L167.0,213.7 L168.7,214.6 L170.4,215.5 L172.1,216.4 L173.9,217.3 L175.7,218.0 L177.6,218.6 L179.5,219.1 L181.3,219.6 L183.0,220.1 L184.8,220.6 L186.6,221.1 L188.4,221.6 L190.2,222.0 L192.0,222.5 L193.7,223.0 L195.5,223.4 L197.3,223.9 L199.0,224.4 L200.7,224.8 L202.4,225.3Z"/><circle cx="203.0" cy="223.0" r="2.38"/><circle cx="136.0" cy="205.5" r="0.84"/>
<path d="M200.4,219.5 L198.4,219.3 L196.4,219.2 L194.4,219.1 L192.3,218.9 L190.3,218.8 L188.2,218.7 L186.1,218.7 L184.0,218.7 L181.9,218.7 L179.8,218.8 L177.7,219.0 L175.6,219.3 L173.5,219.6 L171.4,220.1 L169.6,220.6 L167.9,220.9 L166.2,221.2 L164.5,221.4 L162.9,221.5 L161.3,221.6 L159.6,221.8 L158.0,221.9 L156.4,222.1 L154.8,222.3 L153.2,222.7 L151.6,223.1 L150.1,223.7 L148.5,224.5 L147.5,225.0 L146.5,225.4 L145.5,225.8 L144.4,226.1 L143.4,226.5 L142.4,226.8 L141.4,227.0 L140.4,227.3 L139.4,227.6 L138.4,228.0 L137.4,228.3 L136.4,228.8 L135.5,229.2 L134.6,229.8 L135.4,231.2 L136.3,230.8 L137.1,230.4 L138.0,230.0 L138.9,229.7 L139.9,229.5 L140.9,229.2 L141.9,229.0 L142.9,228.7 L144.0,228.4 L145.0,228.2 L146.1,227.8 L147.3,227.5 L148.4,227.0 L149.5,226.5 L150.9,225.9 L152.4,225.5 L153.8,225.1 L155.3,224.9 L156.7,224.7 L158.3,224.6 L159.8,224.5 L161.4,224.5 L163.1,224.4 L164.8,224.3 L166.5,224.2 L168.4,224.0 L170.3,223.7 L172.2,223.3 L174.1,222.9 L176.0,222.7 L178.0,222.5 L179.9,222.4 L181.9,222.4 L183.9,222.5 L185.9,222.6 L187.9,222.7 L190.0,222.9 L192.0,223.1 L194.0,223.3 L196.0,223.5 L198.0,223.7 L200.0,223.9Z"/><circle cx="200.2" cy="221.7" r="2.24"/><circle cx="135.0" cy="230.5" r="0.84"/>
<path d="M179.3,173.2 L178.5,172.4 L177.8,171.7 L177.0,170.9 L176.2,170.2 L175.3,169.5 L174.5,168.9 L173.6,168.2 L172.8,167.6 L171.9,167.0 L171.0,166.4 L170.1,165.9 L169.2,165.3 L168.3,164.8 L167.4,164.3 L166.6,165.7 L167.4,166.3 L168.2,166.9 L169.0,167.5 L169.8,168.1 L170.6,168.7 L171.4,169.4 L172.2,170.1 L172.9,170.7 L173.6,171.4 L174.3,172.2 L175.0,172.9 L175.7,173.6 L176.3,174.4 L176.9,175.2Z"/><circle cx="178.1" cy="174.2" r="1.54"/><circle cx="167.0" cy="165.0" r="0.80"/>
<path d="M158.2,195.3 L157.5,195.9 L156.9,196.5 L156.2,197.1 L155.5,197.6 L154.8,198.1 L154.1,198.6 L153.3,199.0 L152.5,199.4 L151.7,199.7 L150.8,200.0 L149.9,200.3 L149.0,200.5 L148.0,200.6 L147.0,200.7 L147.0,202.3 L148.1,202.3 L149.2,202.3 L150.2,202.2 L151.3,202.0 L152.3,201.8 L153.3,201.5 L154.2,201.2 L155.2,200.8 L156.1,200.4 L157.0,199.9 L157.8,199.4 L158.7,198.8 L159.5,198.2 L160.2,197.5Z"/><circle cx="159.2" cy="196.4" r="1.54"/><circle cx="147.0" cy="201.5" r="0.80"/>
<path d="M170.8,220.5 L169.8,221.4 L168.9,222.3 L167.9,223.0 L167.0,223.7 L166.0,224.4 L165.0,225.0 L164.0,225.5 L163.0,225.9 L162.0,226.4 L161.0,226.7 L160.0,227.0 L159.0,227.3 L158.0,227.5 L156.9,227.7 L157.1,229.3 L158.2,229.2 L159.3,229.1 L160.4,228.9 L161.6,228.6 L162.7,228.3 L163.8,228.0 L164.9,227.6 L166.1,227.1 L167.2,226.6 L168.3,226.0 L169.5,225.3 L170.6,224.5 L171.7,223.7 L172.8,222.9Z"/><circle cx="171.8" cy="221.7" r="1.54"/><circle cx="157.0" cy="228.5" r="0.80"/>
<path d="M182.3,185.7 L181.3,184.9 L180.3,184.2 L179.2,183.5 L178.2,182.9 L177.1,182.3 L176.0,181.8 L174.9,181.3 L173.8,180.9 L172.7,180.5 L171.6,180.2 L170.5,179.9 L169.4,179.6 L168.3,179.4 L167.2,179.2 L166.8,180.8 L167.9,181.1 L168.9,181.4 L169.9,181.7 L171.0,182.1 L172.0,182.5 L172.9,182.9 L173.9,183.4 L174.9,183.9 L175.8,184.5 L176.8,185.1 L177.7,185.8 L178.6,186.5 L179.4,187.2 L180.3,188.1Z"/><circle cx="181.3" cy="186.9" r="1.54"/><circle cx="167.0" cy="180.0" r="0.80"/>
</g>

<path fill="none" stroke="#f7d9dc" stroke-width="4" d="M14,282 C15,268 19.500,257 26.300,247"/>
<path fill="none" stroke="#f0808a" stroke-width="4.6" stroke-dasharray="4 1.8" d="M14,282 C15,268 19.500,257 26.300,247"/>
<path fill="none" stroke="#f7d9dc" stroke-width="4" d="M245,276 C243.500,265 238,254 228.700,247"/>
<path fill="none" stroke="#f0808a" stroke-width="4.6" stroke-dasharray="4 1.8" d="M245,276 C243.500,265 238,254 228.700,247"/>
<path fill="none" stroke="#e31d2d" stroke-linecap="round" stroke-width="5.7" d="M13.5,281 C15,288 17,293 18.5,298 C21,306 23,312 24,320 C26,335 29,348 29,362"/>
<path fill="none" stroke="#e31d2d" stroke-linecap="round" stroke-width="5.7" d="M245.5,275.500 C245.500,282 245,287 244,292 C242,301 239,308 236,318 C232,332 228,346 227,362"/>
<circle cx="17.5" cy="295.2" r="14.4" fill="none" stroke="#000" stroke-width="2.4"/>
<circle cx="245.2" cy="289.8" r="14.4" fill="none" stroke="#000" stroke-width="2.4"/>
<path d="M10.8,288.3 L24.2,301.7 M24.2,288.3 L10.8,301.7" stroke="#000" stroke-width="4.5" fill="none"/>
<path d="M238.5,283 L252,296.500 M252,283 L238.500,296.500" stroke="#000" stroke-width="4.5" fill="none"/>
<use href="#oa" transform="translate(73.7,129.2) rotate(-24.2) scale(1.04,1)"/>
<use href="#oa" transform="translate(132.6,115.7) scale(1.03,1)"/>
<use href="#oa" transform="translate(184.7,130.2) rotate(32.5) scale(0.98,0.93)"/>
<path class="ld" d="M214,50.8 L128.5,144.7"/><circle cx="128.5" cy="145" r="2.7"/>
<path class="ld" d="M248,148.5 L128.5,208"/><circle cx="128.5" cy="208" r="2.8"/>
<path class="ld" d="M34.3,302.3 L133.3,333.6 L230,300.7"/><circle cx="34.3" cy="302.3" r="2.6"/><circle cx="230" cy="300.7" r="2.6"/>
<text class="b" x="70" y="51.2" textLength="125" lengthAdjust="spacingAndGlyphs">MECHANICAL LOADING</text>
<text class="t" x="216.3" y="45">Cartilage necrosis</text>
<text class="t" x="216.3" y="56.7">and cessation of</text>
<text class="t" x="216.3" y="68">endochondral ossification</text>
<text class="t" x="251" y="148">Bone and</text>
<text class="t" x="251" y="159.7">marrow necrosis</text>
<text class="t" x="133.8" y="345.5" text-anchor="middle">Disruption of blood supply</text>
</g>
<use href="#ga" transform="translate(277.2,234.9)"/>
<use href="#ga" transform="translate(635,234.8)"/>
<g id="p2">
<defs>
<linearGradient id="bn2" x1="0" y1="170" x2="0" y2="238" gradientUnits="userSpaceOnUse"><stop offset="0" stop-color="#e8c88b"/><stop offset="0.8" stop-color="#e9c98d"/><stop offset="1" stop-color="#edd09b"/></linearGradient>
<linearGradient id="pk2r" x1="540" y1="0" x2="582" y2="0" gradientUnits="userSpaceOnUse">
<stop offset="0" stop-color="#f6cfbb"/><stop offset="0.6" stop-color="#f5d0b8"/><stop offset="0.85" stop-color="#f1dab0"/><stop offset="1" stop-color="#f0dcae"/>
</linearGradient>
</defs>
<path d="M374.4,312.0 C373.0,310.7 369.6,306.6 366.0,304.0 C362.4,301.4 357.7,301.9 353.0,296.7 C348.3,291.5 341.7,281.3 338.0,273.0 C334.3,264.7 332.2,255.5 331.0,247.0 C329.8,238.5 329.6,229.8 330.7,222.0 C331.8,214.2 334.3,207.0 337.5,200.0 C340.7,193.0 343.8,186.9 350.0,180.0 C356.2,173.1 366.6,164.2 375.0,158.8 C383.4,153.4 391.8,150.8 400.2,147.6 C408.6,144.4 417.0,141.5 425.3,139.5 C433.6,137.5 441.6,136.4 450.0,135.5 C458.4,134.6 467.1,134.5 475.4,134.3 C483.7,134.1 491.6,133.9 500.0,134.5 C508.4,135.1 517.0,136.1 525.5,137.9 C534.0,139.7 542.5,142.1 551.0,145.5 C559.5,148.9 569.4,153.2 576.6,158.3 C583.9,163.4 589.4,169.8 594.5,176.2 C599.6,182.6 604.4,189.3 607.3,196.6 C610.2,203.9 611.1,212.8 611.7,220.0 C612.3,227.2 612.5,232.1 611.0,240.0 C609.5,247.9 605.7,259.6 602.6,267.6 C599.5,275.6 596.2,282.3 592.4,288.0 C588.6,293.7 583.7,298.2 580.0,302.0 C576.3,305.8 571.7,309.5 570.0,311.0 Z" fill="#a9d6f1"/>
<path d="M375,313 C378,305 384,299 392,296 C410,290 440,288 470,287.5 C500,287 530,289 548,294 C560,298 566,304 569.5,311 L569.5,315 L375,315 Z" fill="#fff"/>
<path transform="translate(0,1)" d="M376,309 C380,299 387,294 396,291 C415,285 445,283 472,282.5 C500,282.5 530,284 548,289 C560,293 566,299 570,307" fill="none" stroke="#cfe3f3" stroke-width="5"/>
<path class="ol" stroke-width="1.3" transform="translate(0,1)" d="M375.5,312 C377,300 384,294 394,290 C412,284 445,282 472,281.5 C500,281.5 532,283 550,288 C561,292 567,299 570,310"/>
<path class="ol" filter="url(#fz)" stroke="#909499" d="M375,313 C378,305 384,299 392,296 C410,290 440,288 470,287.5 C500,287 530,289 548,294 C560,298 566,304 569.5,311"/>
<path d="M384.0,199.5 C386.7,197.5 392.3,192.6 400.0,187.7 C407.7,182.8 421.6,174.0 430.0,170.0 C438.4,166.0 442.7,165.1 450.3,163.8 C457.9,162.5 467.1,162.1 475.4,162.2 C483.7,162.3 491.6,162.3 500.0,164.5 C508.4,166.7 517.0,170.6 525.5,175.5 C534.0,180.4 545.0,189.6 551.0,194.0 C557.0,198.4 559.8,200.7 561.5,202.0 L557,206 C548,222 538,240 529,257 C515,252 495,249.5 468,249.5 C445,249.5 425,253 408,259 C402,240 394,218 384,199 Z" fill="#fff"/>
<path class="ol" stroke-width="1.3" filter="url(#fz)" d="M408,259 C425,253 445,249.5 468,249.5 C495,249.5 515,252 529,257"/>
<clipPath id="cb2"><path d="M401.0,199.0 C402.2,197.3 404.7,191.9 408.0,189.0 C411.3,186.1 416.2,183.8 421.0,181.5 C425.8,179.2 431.3,177.1 437.0,175.3 C442.7,173.5 448.6,171.8 455.0,170.8 C461.4,169.8 468.4,169.4 475.4,169.4 C482.4,169.4 490.7,169.9 497.0,171.0 C503.3,172.1 508.0,173.8 513.0,176.0 C518.0,178.2 522.3,180.8 527.0,184.5 C531.7,188.2 538.7,196.2 541.0,198.5 L560,210 L560,260 L380,260 L380,210 Z"/></clipPath>
<g clip-path="url(#cb2)"><path d="M399.0,193.0 C400.2,191.3 402.5,186.1 406.0,183.0 C409.5,179.9 414.8,177.0 420.0,174.5 C425.2,172.0 431.2,169.8 437.0,168.0 C442.8,166.2 448.6,164.7 455.0,163.8 C461.4,162.9 468.4,162.4 475.4,162.4 C482.4,162.4 490.6,162.9 497.0,164.0 C503.4,165.1 508.7,166.7 514.0,169.0 C519.3,171.3 524.2,174.1 529.0,178.0 C533.8,181.9 540.7,190.1 543.0,192.5 L541,198.500 C536,207 531,214 526,221 C521,228 516,234 511.5,240 C498,236 486,234.5 472,234.5 C456,234.5 441,236 427,239 C423.5,231 420,223 415.5,215 C411,208 406,203 401,199 Z" fill="url(#bn2)" filter="url(#bl3)"/></g>
<path d="M401.0,199.0 C402.2,197.3 404.7,191.9 408.0,189.0 C411.3,186.1 416.2,183.8 421.0,181.5 C425.8,179.2 431.3,177.1 437.0,175.3 C442.7,173.5 448.6,171.8 455.0,170.8 C461.4,169.8 468.4,169.4 475.4,169.4 C482.4,169.4 490.7,169.9 497.0,171.0 C503.3,172.1 508.0,173.8 513.0,176.0 C518.0,178.2 522.3,180.8 527.0,184.5 C531.7,188.2 538.7,196.2 541.0,198.5" fill="none" stroke="#92836a" stroke-width="1.7" filter="url(#fz)"/>
<path class="ol" stroke-width="1.9" stroke="#74777b" filter="url(#fz)" d="M384.0,199.5 C386.7,197.5 392.3,192.6 400.0,187.7 C407.7,182.8 421.6,174.0 430.0,170.0 C438.4,166.0 442.7,165.1 450.3,163.8 C457.9,162.5 467.1,162.1 475.4,162.2 C483.7,162.3 491.6,162.3 500.0,164.5 C508.4,166.7 517.0,170.6 525.5,175.5 C534.0,180.4 545.0,189.6 551.0,194.0 C557.0,198.4 559.8,200.7 561.5,202.0"/>
<path class="dash" d="M383.9,190.7 C387.9,187.2 398.7,175.7 407.7,170.0 C416.7,164.3 426.5,159.6 437.8,156.3 C449.1,153.0 462.9,150.2 475.4,150.0 C487.9,149.8 502.6,152.3 513.0,155.0 C523.4,157.7 530.0,160.7 538.0,166.4 C546.0,172.1 557.4,185.2 561.3,189.0"/>
<path class="dash" d="M389.0,192.7 C392.9,189.6 404.1,179.1 412.7,173.9 C421.2,168.7 429.9,164.4 440.3,161.3 C450.8,158.2 463.7,155.6 475.4,155.3 C487.1,155.0 500.5,156.9 510.5,159.6 C520.5,162.3 527.7,166.3 535.5,171.4 C543.3,176.5 553.8,187.2 557.5,190.3"/>
<path d="M379.2,200.2 C381.7,200.6 384.8,204.6 387.2,208.7 C389.6,212.8 391.4,219.4 393.9,224.8 C396.3,230.2 399.4,236.0 401.9,240.9 C404.3,245.8 408.1,250.7 408.6,254.2 C409.1,257.7 407.1,260.2 405.0,262.0 C402.9,263.8 398.8,264.4 396.0,265.0 C393.2,265.6 392.0,265.9 388.5,265.3 C385.0,264.7 379.1,264.1 375.1,261.5 C371.1,258.9 366.6,253.8 364.4,249.5 C362.1,245.2 361.4,240.5 361.6,235.5 C361.8,230.5 363.7,224.3 365.5,219.4 C367.3,214.5 370.0,209.2 372.3,206.0 C374.6,202.8 376.7,199.8 379.2,200.2 Z" fill="#f5d3bd" stroke="#dcb98e" stroke-width="1.5"/>
<path d="M563.3,198.3 C566.0,198.7 569.8,201.5 572.3,204.6 C574.8,207.7 577.1,212.8 578.4,216.8 C579.6,220.9 580.0,224.9 579.8,228.9 C579.6,232.9 578.6,237.4 577.4,241.1 C576.2,244.8 574.4,247.8 572.5,250.8 C570.6,253.8 568.9,257.1 566.2,259.3 C563.5,261.5 560.1,263.5 556.5,263.8 C552.9,264.1 548.3,262.7 544.3,261.0 C540.2,259.3 534.8,256.2 532.2,253.8 C529.6,251.4 528.4,249.4 528.8,246.5 C529.2,243.6 532.2,239.9 534.4,236.2 C536.5,232.5 539.3,228.1 541.7,224.1 C544.1,220.1 546.6,215.6 549.0,211.9 C551.4,208.2 553.9,204.5 556.3,202.2 C558.7,199.9 560.6,197.9 563.3,198.3 Z" fill="url(#pk2r)" stroke="#dcb98e" stroke-width="1.5"/>
<g fill="#e31d2d"><path d="M373.5,381.1 L373.5,378.2 L373.5,375.4 L373.4,372.6 L373.3,369.7 L373.2,366.9 L373.0,364.1 L372.7,361.4 L372.4,358.6 L372.0,355.9 L371.6,353.2 L371.1,350.5 L370.6,347.9 L370.0,345.3 L369.3,342.9 L368.7,340.4 L368.0,337.8 L367.3,335.3 L366.5,332.8 L365.7,330.3 L364.8,327.8 L364.0,325.4 L363.0,322.9 L362.1,320.5 L361.2,318.1 L360.2,315.7 L359.2,313.4 L358.3,311.0 L357.3,308.7 L356.5,306.6 L355.7,304.6 L355.0,302.6 L354.3,300.6 L353.7,298.7 L353.2,296.9 L352.7,295.1 L352.3,293.3 L352.0,291.6 L351.8,290.0 L351.7,288.4 L351.6,286.9 L351.6,285.5 L351.7,284.2 L352.0,282.9 L352.4,281.4 L352.8,280.1 L353.2,278.8 L353.6,277.5 L354.1,276.4 L354.7,275.2 L355.3,274.1 L355.9,272.9 L356.6,271.8 L357.4,270.7 L358.3,269.5 L359.2,268.4 L360.3,267.1 L355.3,262.9 L354.2,264.2 L353.1,265.5 L352.1,266.8 L351.2,268.2 L350.3,269.5 L349.5,270.8 L348.8,272.2 L348.1,273.6 L347.5,275.1 L346.9,276.6 L346.4,278.1 L345.9,279.7 L345.5,281.3 L345.1,283.2 L344.9,285.1 L344.8,286.9 L344.9,288.8 L345.0,290.7 L345.3,292.7 L345.6,294.6 L346.0,296.6 L346.5,298.6 L347.0,300.7 L347.7,302.7 L348.3,304.8 L349.1,307.0 L349.9,309.1 L350.7,311.3 L351.7,313.7 L352.6,316.1 L353.5,318.4 L354.5,320.8 L355.4,323.1 L356.2,325.5 L357.1,327.8 L357.9,330.2 L358.7,332.6 L359.5,335.0 L360.2,337.4 L360.8,339.8 L361.5,342.2 L362.1,344.7 L362.7,347.1 L363.2,349.5 L363.7,351.9 L364.1,354.4 L364.5,356.9 L364.8,359.5 L365.0,362.1 L365.2,364.7 L365.4,367.4 L365.5,370.1 L365.6,372.8 L365.6,375.5 L365.6,378.2 L365.5,380.9Z"/><circle cx="369.5" cy="381.0" r="3.98"/><circle cx="357.8" cy="265.0" r="3.24"/>
<path d="M360.2,265.6 L360.5,264.1 L360.8,262.6 L361.1,261.1 L361.3,259.7 L361.6,258.3 L361.8,256.9 L362.1,255.6 L362.3,254.3 L362.5,252.9 L362.8,251.6 L363.0,250.4 L363.2,249.1 L363.4,247.9 L363.7,246.6 L363.9,245.4 L364.2,244.2 L364.4,243.0 L364.6,241.8 L364.9,240.6 L365.2,239.4 L365.4,238.3 L365.7,237.1 L365.9,236.0 L366.2,234.9 L366.5,233.7 L366.7,232.6 L367.0,231.6 L367.2,230.5 L367.6,229.3 L367.9,228.1 L368.3,227.0 L368.6,225.8 L369.0,224.6 L369.3,223.4 L369.7,222.2 L370.1,221.1 L370.4,219.9 L370.8,218.8 L371.1,217.7 L371.5,216.6 L371.8,215.5 L372.1,214.4 L372.3,213.4 L372.5,212.5 L372.6,211.6 L372.7,210.8 L372.8,209.9 L372.9,209.0 L373.0,208.1 L373.0,207.2 L373.1,206.4 L373.1,205.5 L373.2,204.6 L373.2,203.8 L373.2,202.9 L373.2,202.0 L371.8,202.0 L371.7,202.8 L371.6,203.7 L371.5,204.5 L371.5,205.4 L371.4,206.2 L371.3,207.1 L371.2,207.9 L371.0,208.8 L370.9,209.6 L370.8,210.5 L370.6,211.3 L370.4,212.2 L370.3,213.0 L370.1,213.8 L369.7,214.8 L369.3,215.9 L368.9,217.0 L368.5,218.1 L368.1,219.2 L367.7,220.3 L367.3,221.4 L366.9,222.6 L366.4,223.7 L366.0,224.9 L365.6,226.1 L365.2,227.3 L364.8,228.5 L364.4,229.7 L364.0,230.8 L363.7,231.8 L363.4,232.9 L363.1,234.0 L362.8,235.1 L362.4,236.3 L362.1,237.4 L361.8,238.6 L361.5,239.8 L361.1,241.0 L360.8,242.2 L360.5,243.4 L360.2,244.6 L359.9,245.8 L359.6,247.0 L359.3,248.3 L359.0,249.6 L358.7,250.8 L358.4,252.1 L358.1,253.4 L357.8,254.7 L357.5,256.0 L357.2,257.4 L356.9,258.8 L356.5,260.1 L356.2,261.5 L355.8,263.0 L355.4,264.4Z"/><circle cx="357.8" cy="265.0" r="2.43"/><circle cx="372.5" cy="202.0" r="0.75"/>
<path d="M364.5,243.0 L365.2,241.7 L365.9,240.3 L366.7,239.0 L367.4,237.7 L368.2,236.4 L369.0,235.2 L369.8,233.9 L370.6,232.6 L371.4,231.4 L372.3,230.2 L373.2,229.0 L374.1,227.8 L375.0,226.7 L376.0,225.5 L376.7,224.6 L377.4,223.6 L378.0,222.7 L378.7,221.8 L379.4,220.9 L380.0,220.0 L380.7,219.1 L381.3,218.3 L382.0,217.4 L382.6,216.6 L383.2,215.7 L383.8,214.9 L384.5,214.1 L385.1,213.3 L383.9,212.3 L383.3,213.1 L382.6,213.9 L381.9,214.7 L381.3,215.5 L380.6,216.3 L379.9,217.2 L379.2,218.0 L378.5,218.9 L377.8,219.7 L377.1,220.6 L376.4,221.4 L375.7,222.3 L375.0,223.2 L374.2,224.1 L373.2,225.2 L372.2,226.3 L371.3,227.5 L370.3,228.7 L369.4,229.9 L368.4,231.1 L367.5,232.4 L366.6,233.6 L365.8,234.9 L364.9,236.2 L364.1,237.5 L363.3,238.8 L362.5,240.1 L361.7,241.4Z"/><circle cx="363.1" cy="242.2" r="1.62"/><circle cx="384.5" cy="212.8" r="0.75"/>
<path d="M359.1,266.0 L359.1,264.9 L359.0,263.8 L359.0,262.7 L358.9,261.7 L358.8,260.6 L358.7,259.5 L358.6,258.5 L358.5,257.4 L358.4,256.4 L358.2,255.4 L358.1,254.4 L357.9,253.4 L357.8,252.4 L357.6,251.4 L357.4,250.5 L357.2,249.6 L357.0,248.8 L356.8,248.0 L356.6,247.2 L356.4,246.4 L356.2,245.6 L356.0,244.9 L355.8,244.1 L355.6,243.4 L355.3,242.7 L355.1,242.0 L354.9,241.3 L354.6,240.6 L354.3,239.9 L354.0,239.3 L353.7,238.7 L353.4,238.0 L353.1,237.4 L352.8,236.8 L352.5,236.2 L352.2,235.6 L351.9,235.0 L351.6,234.5 L351.3,233.9 L350.9,233.4 L350.6,232.9 L350.3,232.4 L349.1,233.2 L349.3,233.7 L349.6,234.2 L349.9,234.7 L350.1,235.2 L350.4,235.8 L350.7,236.4 L351.0,237.0 L351.2,237.6 L351.5,238.2 L351.8,238.8 L352.0,239.4 L352.3,240.0 L352.6,240.7 L352.8,241.2 L353.0,241.9 L353.2,242.6 L353.4,243.2 L353.5,243.9 L353.7,244.7 L353.9,245.4 L354.0,246.1 L354.2,246.9 L354.4,247.7 L354.5,248.5 L354.7,249.3 L354.8,250.1 L355.0,251.0 L355.2,251.8 L355.3,252.7 L355.4,253.7 L355.4,254.7 L355.5,255.7 L355.6,256.7 L355.7,257.7 L355.7,258.7 L355.8,259.7 L355.8,260.8 L355.9,261.8 L355.9,262.9 L355.9,263.9 L355.9,265.0 L355.9,266.0Z"/><circle cx="357.5" cy="266.0" r="1.62"/><circle cx="349.7" cy="232.8" r="0.75"/>
<path d="M366.1,231.6 L365.8,230.7 L365.5,229.8 L365.1,228.9 L364.8,228.0 L364.4,227.0 L364.1,226.0 L363.7,224.9 L363.3,223.9 L363.0,222.7 L362.6,221.6 L362.3,220.4 L361.9,219.2 L361.5,217.9 L361.1,216.6 L359.7,217.0 L360.0,218.3 L360.3,219.6 L360.6,220.9 L360.9,222.1 L361.2,223.3 L361.5,224.4 L361.8,225.5 L362.1,226.6 L362.4,227.6 L362.7,228.7 L363.0,229.7 L363.3,230.6 L363.6,231.5 L363.9,232.4Z"/><circle cx="365.0" cy="232.0" r="1.22"/><circle cx="360.4" cy="216.8" r="0.75"/>
<path d="M360.1,264.2 L361.2,262.7 L362.2,261.2 L363.3,259.7 L364.4,258.3 L365.5,256.9 L366.6,255.4 L367.7,254.0 L368.9,252.6 L370.1,251.3 L371.2,249.9 L372.5,248.5 L373.7,247.2 L374.9,245.9 L376.2,244.6 L377.2,243.6 L378.2,242.6 L379.2,241.7 L380.2,240.7 L381.2,239.7 L382.1,238.7 L383.1,237.7 L384.0,236.7 L385.0,235.7 L385.9,234.8 L386.8,233.8 L387.6,232.8 L388.5,231.9 L389.4,230.8 L390.3,229.5 L391.1,228.3 L391.9,227.0 L392.7,225.6 L393.5,224.3 L394.2,223.0 L395.0,221.6 L395.7,220.2 L396.4,218.8 L397.2,217.4 L397.8,216.0 L398.5,214.6 L399.2,213.2 L399.9,211.7 L398.5,211.1 L397.8,212.5 L397.1,213.9 L396.4,215.2 L395.6,216.6 L394.9,218.0 L394.1,219.3 L393.3,220.7 L392.5,222.0 L391.7,223.3 L390.9,224.5 L390.1,225.8 L389.3,227.0 L388.4,228.2 L387.6,229.4 L386.8,230.2 L385.9,231.2 L385.0,232.1 L384.0,233.0 L383.1,233.9 L382.2,234.9 L381.2,235.8 L380.2,236.7 L379.2,237.7 L378.2,238.6 L377.2,239.6 L376.2,240.5 L375.1,241.4 L374.0,242.4 L372.7,243.7 L371.4,245.0 L370.1,246.3 L368.8,247.6 L367.5,249.0 L366.3,250.3 L365.0,251.7 L363.8,253.1 L362.6,254.5 L361.4,256.0 L360.3,257.4 L359.1,258.9 L358.0,260.3 L356.9,261.8Z"/><circle cx="358.5" cy="263.0" r="2.03"/><circle cx="399.2" cy="211.4" r="0.75"/>
<path d="M372.5,248.0 L373.6,247.7 L374.6,247.3 L375.7,246.9 L376.8,246.5 L377.8,246.1 L378.9,245.7 L379.9,245.2 L381.0,244.7 L382.0,244.3 L383.0,243.8 L383.9,243.2 L384.9,242.7 L385.8,242.2 L386.7,241.6 L387.5,241.0 L388.4,240.5 L389.2,239.9 L390.0,239.4 L390.8,238.8 L391.5,238.3 L392.3,237.8 L393.0,237.2 L393.7,236.7 L394.4,236.2 L395.1,235.7 L395.8,235.3 L396.5,234.8 L397.1,234.4 L397.8,233.9 L398.5,233.5 L399.2,233.1 L400.0,232.7 L400.7,232.4 L401.4,232.0 L402.2,231.7 L402.9,231.3 L403.6,231.0 L404.4,230.7 L405.2,230.4 L405.9,230.1 L406.7,229.8 L407.5,229.5 L407.1,228.1 L406.2,228.3 L405.4,228.6 L404.6,228.9 L403.8,229.1 L403.0,229.4 L402.2,229.7 L401.4,230.0 L400.7,230.4 L399.9,230.7 L399.1,231.1 L398.4,231.4 L397.6,231.8 L396.8,232.2 L396.1,232.6 L395.4,233.1 L394.7,233.5 L394.0,234.0 L393.2,234.4 L392.5,234.9 L391.8,235.4 L391.0,235.9 L390.2,236.4 L389.4,236.9 L388.6,237.4 L387.8,237.9 L387.0,238.4 L386.2,238.9 L385.3,239.4 L384.5,239.9 L383.6,240.4 L382.7,240.8 L381.7,241.3 L380.8,241.7 L379.8,242.1 L378.8,242.5 L377.8,242.9 L376.8,243.3 L375.7,243.7 L374.7,244.0 L373.6,244.3 L372.6,244.6 L371.5,245.0Z"/><circle cx="372.0" cy="246.5" r="1.62"/><circle cx="407.3" cy="228.8" r="0.75"/>
<path d="M377.9,263.4 L378.7,262.8 L379.6,262.2 L380.4,261.6 L381.3,261.0 L382.1,260.4 L383.0,259.8 L383.8,259.2 L384.6,258.6 L385.4,258.0 L386.2,257.5 L387.0,256.9 L387.7,256.4 L388.5,255.8 L389.1,255.4 L390.2,254.8 L391.4,254.2 L392.5,253.7 L393.7,253.2 L394.8,252.6 L396.0,252.1 L397.1,251.6 L398.3,251.2 L399.4,250.7 L400.5,250.2 L401.6,249.8 L402.8,249.3 L403.9,248.8 L405.0,248.4 L405.7,248.0 L406.3,247.6 L406.9,247.3 L407.5,246.9 L408.1,246.5 L408.6,246.1 L409.2,245.7 L409.8,245.3 L410.3,244.8 L410.9,244.4 L411.4,244.0 L411.9,243.6 L412.5,243.2 L413.0,242.8 L412.2,241.6 L411.6,242.0 L411.0,242.3 L410.5,242.7 L409.9,243.1 L409.4,243.5 L408.8,243.9 L408.2,244.3 L407.7,244.6 L407.1,245.0 L406.5,245.4 L405.9,245.7 L405.4,246.0 L404.8,246.3 L404.2,246.6 L403.1,247.0 L402.0,247.4 L400.9,247.8 L399.8,248.2 L398.6,248.7 L397.4,249.1 L396.3,249.5 L395.1,250.0 L393.9,250.4 L392.7,250.9 L391.5,251.4 L390.3,251.9 L389.1,252.5 L387.9,253.0 L387.0,253.6 L386.2,254.1 L385.4,254.6 L384.6,255.2 L383.8,255.7 L382.9,256.3 L382.1,256.8 L381.3,257.4 L380.4,257.9 L379.6,258.5 L378.7,259.0 L377.8,259.6 L377.0,260.1 L376.1,260.6Z"/><circle cx="377.0" cy="262.0" r="1.62"/><circle cx="412.6" cy="242.2" r="0.75"/>
<path d="M358.4,269.4 L360.4,268.8 L362.4,268.1 L364.5,267.4 L366.6,266.7 L368.8,266.1 L371.0,265.4 L373.2,264.7 L375.4,264.0 L377.6,263.3 L379.9,262.6 L382.2,261.9 L384.4,261.2 L386.7,260.5 L388.9,259.8 L390.5,259.4 L392.0,259.0 L393.6,258.6 L395.2,258.2 L396.7,257.8 L398.2,257.3 L399.8,256.9 L401.3,256.5 L402.8,256.1 L404.3,255.7 L405.8,255.3 L407.3,254.9 L408.7,254.5 L410.2,254.0 L412.1,253.5 L414.1,253.0 L416.0,252.5 L417.9,252.0 L419.8,251.5 L421.7,251.0 L423.7,250.6 L425.6,250.1 L427.5,249.7 L429.3,249.3 L431.2,248.9 L433.1,248.5 L435.0,248.1 L436.8,247.7 L436.6,246.3 L434.7,246.6 L432.8,246.9 L430.9,247.2 L429.0,247.6 L427.1,247.9 L425.2,248.3 L423.2,248.7 L421.3,249.1 L419.4,249.5 L417.4,249.9 L415.5,250.4 L413.5,250.8 L411.6,251.3 L409.6,251.8 L408.1,252.1 L406.6,252.5 L405.1,252.9 L403.6,253.3 L402.1,253.6 L400.6,254.0 L399.1,254.3 L397.6,254.7 L396.0,255.0 L394.5,255.4 L392.9,255.7 L391.3,256.1 L389.7,256.5 L388.1,256.8 L385.8,257.5 L383.5,258.1 L381.2,258.8 L379.0,259.4 L376.7,260.0 L374.4,260.6 L372.2,261.3 L369.9,261.9 L367.7,262.5 L365.5,263.1 L363.4,263.7 L361.3,264.3 L359.2,265.0 L357.2,265.6Z"/><circle cx="357.8" cy="267.5" r="2.03"/><circle cx="436.7" cy="247.0" r="0.75"/>
<path d="M573.6,381.5 L573.6,379.5 L573.6,377.5 L573.5,375.6 L573.5,373.7 L573.5,371.9 L573.5,370.1 L573.5,368.4 L573.5,366.7 L573.6,365.1 L573.6,363.5 L573.6,362.0 L573.6,360.6 L573.7,359.1 L573.7,357.8 L573.9,356.3 L574.0,354.7 L574.2,353.2 L574.4,351.7 L574.5,350.2 L574.7,348.7 L575.0,347.3 L575.2,345.9 L575.4,344.5 L575.7,343.2 L576.0,341.9 L576.3,340.6 L576.6,339.4 L577.0,338.1 L577.3,336.8 L577.7,335.5 L578.1,334.2 L578.5,332.9 L578.8,331.6 L579.2,330.4 L579.6,329.1 L580.0,327.9 L580.5,326.7 L580.9,325.4 L581.3,324.3 L581.7,323.1 L582.2,321.9 L582.6,320.7 L583.1,319.4 L583.6,318.1 L584.1,316.8 L584.7,315.6 L585.2,314.3 L585.7,313.1 L586.3,311.9 L586.8,310.7 L587.4,309.5 L587.9,308.2 L588.4,307.0 L588.9,305.7 L589.4,304.4 L589.8,303.0 L590.2,301.9 L590.5,300.7 L590.8,299.5 L591.0,298.3 L591.2,297.2 L591.4,296.0 L591.5,294.9 L591.6,293.7 L591.7,292.6 L591.7,291.5 L591.7,290.4 L591.6,289.3 L591.5,288.2 L591.4,287.1 L591.1,285.8 L590.9,284.5 L590.5,283.3 L590.2,282.1 L589.8,280.8 L589.4,279.7 L588.9,278.5 L588.4,277.3 L587.8,276.2 L587.2,275.0 L586.5,273.9 L585.8,272.8 L585.1,271.8 L584.3,270.8 L579.7,274.2 L580.4,275.2 L581.0,276.1 L581.6,277.0 L582.1,277.9 L582.6,278.8 L583.0,279.8 L583.5,280.8 L583.8,281.8 L584.2,282.7 L584.5,283.8 L584.8,284.8 L585.0,285.8 L585.3,286.9 L585.4,287.9 L585.5,288.8 L585.6,289.6 L585.6,290.5 L585.6,291.5 L585.6,292.4 L585.5,293.3 L585.4,294.3 L585.3,295.2 L585.2,296.2 L585.0,297.2 L584.8,298.2 L584.5,299.2 L584.3,300.2 L584.0,301.2 L583.6,302.3 L583.1,303.5 L582.7,304.6 L582.2,305.8 L581.7,306.9 L581.1,308.1 L580.6,309.3 L580.0,310.5 L579.4,311.7 L578.9,313.0 L578.3,314.3 L577.7,315.7 L577.1,317.1 L576.6,318.5 L576.2,319.6 L575.7,320.8 L575.2,322.0 L574.8,323.3 L574.3,324.5 L573.9,325.8 L573.5,327.1 L573.0,328.4 L572.6,329.7 L572.2,331.0 L571.8,332.3 L571.4,333.6 L571.0,335.0 L570.6,336.3 L570.2,337.6 L569.9,338.9 L569.5,340.3 L569.2,341.7 L568.9,343.2 L568.6,344.7 L568.3,346.2 L568.1,347.7 L567.8,349.3 L567.6,350.8 L567.4,352.4 L567.2,354.0 L567.0,355.6 L566.9,357.4 L566.8,358.9 L566.7,360.3 L566.7,361.8 L566.6,363.4 L566.6,365.0 L566.6,366.7 L566.5,368.4 L566.5,370.1 L566.5,371.9 L566.5,373.7 L566.5,375.6 L566.4,377.5 L566.4,379.5 L566.4,381.5Z"/><circle cx="570.0" cy="381.5" r="3.58"/><circle cx="582.0" cy="272.5" r="2.90"/>
<path d="M585.7,275.3 L584.4,274.0 L583.0,272.8 L581.7,271.6 L580.3,270.5 L579.0,269.5 L577.6,268.5 L576.3,267.6 L574.9,266.7 L573.6,265.8 L572.3,265.0 L570.9,264.2 L569.6,263.5 L568.3,262.8 L566.9,262.2 L565.2,261.3 L563.5,260.5 L561.7,259.7 L560.0,258.9 L558.3,258.1 L556.5,257.3 L554.8,256.5 L553.0,255.7 L551.3,254.9 L549.6,254.2 L547.8,253.5 L546.1,252.8 L544.3,252.1 L542.5,251.5 L539.8,250.8 L537.0,250.1 L534.2,249.5 L531.4,249.0 L528.5,248.5 L525.5,248.0 L522.6,247.6 L519.6,247.2 L516.6,246.8 L513.6,246.5 L510.7,246.2 L507.8,246.0 L504.9,245.8 L502.1,245.6 L501.0,245.5 L500.1,245.4 L499.1,245.3 L498.2,245.3 L497.4,245.2 L496.6,245.2 L495.9,245.1 L495.2,245.1 L494.5,245.1 L493.8,245.0 L493.2,245.0 L492.6,245.0 L492.1,245.0 L491.5,245.0 L491.5,246.4 L492.0,246.5 L492.6,246.5 L493.1,246.6 L493.8,246.6 L494.4,246.7 L495.1,246.7 L495.8,246.8 L496.5,246.8 L497.3,246.9 L498.1,247.0 L499.0,247.1 L499.9,247.2 L500.9,247.3 L501.9,247.4 L504.7,247.7 L507.6,248.0 L510.5,248.4 L513.4,248.7 L516.3,249.1 L519.3,249.6 L522.2,250.1 L525.1,250.6 L528.0,251.2 L530.8,251.7 L533.6,252.4 L536.3,253.1 L539.0,253.8 L541.5,254.5 L543.1,255.2 L544.8,255.9 L546.5,256.6 L548.2,257.4 L549.8,258.2 L551.5,259.0 L553.2,259.8 L554.9,260.6 L556.6,261.5 L558.3,262.3 L560.0,263.2 L561.7,264.1 L563.4,265.0 L565.1,265.8 L566.3,266.5 L567.6,267.2 L568.8,267.9 L570.0,268.7 L571.3,269.5 L572.5,270.3 L573.7,271.2 L574.9,272.1 L576.2,273.1 L577.4,274.1 L578.6,275.2 L579.8,276.3 L581.1,277.5 L582.3,278.7Z"/><circle cx="584.0" cy="277.0" r="2.43"/><circle cx="491.5" cy="245.7" r="0.75"/>
<path d="M536.5,249.6 L535.5,248.6 L534.5,247.7 L533.6,246.7 L532.7,245.7 L531.7,244.7 L530.8,243.7 L529.9,242.7 L529.1,241.7 L528.2,240.6 L527.4,239.5 L526.5,238.5 L525.7,237.4 L524.9,236.2 L524.1,235.1 L522.9,235.9 L523.6,237.1 L524.3,238.3 L525.1,239.5 L525.9,240.6 L526.7,241.8 L527.5,242.9 L528.3,244.0 L529.1,245.1 L530.0,246.2 L530.9,247.3 L531.8,248.4 L532.7,249.4 L533.6,250.4 L534.5,251.4Z"/><circle cx="535.5" cy="250.5" r="1.35"/><circle cx="523.5" cy="235.5" r="0.75"/>
<path d="M581.7,269.7 L580.4,268.0 L579.0,266.3 L577.6,264.5 L576.2,262.7 L574.8,261.0 L573.4,259.2 L572.0,257.4 L570.5,255.6 L569.1,253.8 L567.7,252.0 L566.3,250.3 L564.9,248.5 L563.5,246.8 L562.2,245.1 L561.1,243.6 L560.0,242.1 L558.9,240.6 L557.8,239.1 L556.7,237.5 L555.6,236.0 L554.5,234.4 L553.4,232.9 L552.3,231.4 L551.2,229.9 L550.1,228.5 L549.0,227.1 L547.9,225.7 L546.7,224.4 L546.2,223.7 L545.6,223.1 L545.1,222.6 L544.5,222.0 L543.9,221.5 L543.4,221.0 L542.8,220.5 L542.3,220.0 L541.7,219.6 L541.2,219.1 L540.6,218.7 L540.1,218.3 L539.5,217.8 L539.0,217.4 L538.0,218.6 L538.6,219.0 L539.1,219.5 L539.6,219.9 L540.1,220.4 L540.6,220.8 L541.2,221.3 L541.7,221.8 L542.2,222.2 L542.7,222.8 L543.2,223.3 L543.7,223.8 L544.2,224.4 L544.8,225.0 L545.3,225.6 L546.3,226.9 L547.3,228.3 L548.4,229.7 L549.4,231.2 L550.4,232.7 L551.5,234.3 L552.5,235.8 L553.5,237.4 L554.6,239.0 L555.6,240.6 L556.6,242.2 L557.7,243.8 L558.7,245.3 L559.8,246.9 L561.1,248.7 L562.4,250.4 L563.7,252.3 L565.0,254.1 L566.3,255.9 L567.7,257.8 L569.0,259.6 L570.4,261.5 L571.7,263.3 L573.1,265.1 L574.4,267.0 L575.7,268.8 L577.0,270.5 L578.3,272.3Z"/><circle cx="580.0" cy="271.0" r="2.16"/><circle cx="538.5" cy="218.0" r="0.75"/>
<path d="M557.3,239.4 L557.2,238.2 L557.0,237.0 L556.7,235.8 L556.5,234.7 L556.2,233.5 L555.9,232.4 L555.5,231.3 L555.1,230.2 L554.7,229.1 L554.3,228.0 L553.8,226.9 L553.3,225.8 L552.7,224.7 L552.2,223.7 L550.8,224.3 L551.3,225.4 L551.7,226.5 L552.2,227.6 L552.5,228.6 L552.9,229.7 L553.2,230.8 L553.5,231.9 L553.7,232.9 L554.0,234.0 L554.2,235.1 L554.3,236.2 L554.5,237.4 L554.6,238.5 L554.7,239.6Z"/><circle cx="556.0" cy="239.5" r="1.35"/><circle cx="551.5" cy="224.0" r="0.75"/>
<path d="M585.2,274.5 L584.8,272.6 L584.3,270.6 L583.8,268.6 L583.3,266.6 L582.7,264.6 L582.2,262.5 L581.6,260.5 L581.1,258.5 L580.5,256.5 L580.0,254.4 L579.4,252.4 L578.8,250.4 L578.3,248.5 L577.7,246.5 L577.1,244.6 L576.5,242.7 L575.8,240.7 L575.1,238.8 L574.4,236.9 L573.7,235.1 L572.9,233.2 L572.2,231.4 L571.4,229.6 L570.5,227.9 L569.7,226.2 L568.8,224.5 L568.0,222.9 L567.1,221.4 L566.4,220.3 L565.7,219.3 L565.0,218.4 L564.3,217.5 L563.6,216.6 L562.9,215.9 L562.1,215.1 L561.4,214.4 L560.6,213.8 L559.8,213.2 L559.0,212.6 L558.2,212.1 L557.3,211.6 L556.4,211.2 L555.6,210.7 L554.7,210.4 L553.9,210.1 L553.1,209.8 L552.3,209.5 L551.6,209.3 L550.9,209.1 L550.1,208.9 L549.4,208.7 L548.7,208.6 L548.1,208.5 L547.4,208.4 L546.7,208.3 L546.1,208.3 L545.9,209.7 L546.6,209.8 L547.2,209.9 L547.8,210.0 L548.4,210.2 L549.1,210.3 L549.7,210.5 L550.4,210.7 L551.1,210.9 L551.8,211.1 L552.5,211.4 L553.2,211.7 L554.0,212.1 L554.8,212.4 L555.6,212.8 L556.4,213.3 L557.1,213.8 L557.9,214.3 L558.6,214.8 L559.3,215.4 L560.0,216.0 L560.6,216.6 L561.3,217.3 L561.9,218.1 L562.5,218.9 L563.1,219.7 L563.7,220.6 L564.3,221.6 L564.9,222.6 L565.7,224.1 L566.5,225.7 L567.3,227.3 L568.1,229.0 L568.8,230.7 L569.5,232.5 L570.2,234.3 L570.9,236.1 L571.5,238.0 L572.1,239.8 L572.7,241.7 L573.3,243.6 L573.8,245.6 L574.3,247.5 L574.8,249.4 L575.3,251.4 L575.8,253.4 L576.3,255.4 L576.8,257.4 L577.3,259.5 L577.7,261.5 L578.2,263.5 L578.6,265.6 L579.1,267.6 L579.5,269.6 L580.0,271.6 L580.4,273.6 L580.8,275.5Z"/><circle cx="583.0" cy="275.0" r="2.29"/><circle cx="546.0" cy="209.0" r="0.75"/>
<path d="M575.5,240.9 L575.3,239.2 L575.2,237.5 L575.0,235.7 L574.8,234.0 L574.6,232.3 L574.3,230.6 L574.1,229.0 L573.8,227.3 L573.5,225.7 L573.3,224.0 L572.9,222.4 L572.6,220.9 L572.3,219.3 L571.9,217.8 L571.7,216.9 L571.5,216.1 L571.2,215.3 L571.0,214.6 L570.8,213.8 L570.5,213.1 L570.3,212.5 L570.1,211.8 L569.8,211.2 L569.6,210.7 L569.4,210.1 L569.1,209.6 L568.9,209.1 L568.7,208.7 L567.3,209.3 L567.5,209.8 L567.7,210.2 L567.9,210.7 L568.1,211.2 L568.3,211.8 L568.5,212.4 L568.7,213.0 L568.9,213.7 L569.1,214.4 L569.3,215.1 L569.5,215.8 L569.7,216.6 L569.9,217.4 L570.1,218.2 L570.3,219.7 L570.6,221.2 L570.8,222.8 L571.1,224.4 L571.3,226.0 L571.5,227.6 L571.7,229.3 L571.8,230.9 L572.0,232.6 L572.1,234.3 L572.2,236.0 L572.4,237.7 L572.4,239.4 L572.5,241.1Z"/><circle cx="574.0" cy="241.0" r="1.49"/><circle cx="568.0" cy="209.0" r="0.75"/>
<path d="M587.2,280.2 L587.4,278.5 L587.6,276.9 L587.8,275.2 L588.0,273.6 L588.3,272.1 L588.6,270.5 L588.8,268.9 L589.2,267.4 L589.5,265.9 L589.9,264.4 L590.2,262.9 L590.7,261.4 L591.1,259.9 L591.6,258.4 L592.0,257.4 L592.4,256.3 L592.8,255.3 L593.2,254.3 L593.7,253.3 L594.1,252.4 L594.6,251.4 L595.0,250.5 L595.5,249.7 L595.9,248.8 L596.4,248.0 L596.8,247.3 L597.2,246.6 L597.6,245.9 L596.4,245.1 L595.9,245.7 L595.4,246.5 L595.0,247.2 L594.5,248.0 L594.0,248.8 L593.4,249.7 L592.9,250.6 L592.4,251.5 L591.9,252.4 L591.4,253.4 L590.9,254.4 L590.4,255.5 L589.9,256.5 L589.4,257.6 L588.9,259.1 L588.3,260.6 L587.8,262.1 L587.3,263.7 L586.9,265.2 L586.4,266.8 L586.0,268.3 L585.6,269.9 L585.3,271.5 L584.9,273.1 L584.6,274.7 L584.3,276.4 L584.0,278.1 L583.8,279.8Z"/><circle cx="585.5" cy="280.0" r="1.76"/><circle cx="597.0" cy="245.5" r="0.75"/>
<path d="M583.0,262.1 L583.1,260.6 L583.2,259.1 L583.3,257.6 L583.4,256.2 L583.6,254.7 L583.7,253.2 L583.9,251.7 L584.2,250.2 L584.4,248.7 L584.7,247.2 L585.0,245.8 L585.3,244.3 L585.6,242.8 L586.0,241.3 L586.3,240.2 L586.6,239.2 L587.0,238.2 L587.3,237.2 L587.7,236.2 L588.0,235.2 L588.4,234.3 L588.8,233.4 L589.3,232.5 L589.7,231.6 L590.2,230.8 L590.6,230.0 L591.1,229.2 L591.6,228.4 L590.4,227.6 L589.8,228.3 L589.3,229.1 L588.8,230.0 L588.3,230.8 L587.8,231.7 L587.3,232.6 L586.8,233.6 L586.4,234.5 L585.9,235.5 L585.5,236.5 L585.1,237.5 L584.7,238.6 L584.4,239.6 L584.0,240.7 L583.5,242.2 L583.1,243.7 L582.7,245.2 L582.4,246.8 L582.0,248.3 L581.7,249.8 L581.4,251.3 L581.2,252.8 L580.9,254.3 L580.7,255.8 L580.5,257.4 L580.3,258.9 L580.2,260.4 L580.0,261.9Z"/><circle cx="581.5" cy="262.0" r="1.49"/><circle cx="591.0" cy="228.0" r="0.75"/>
<path d="M590.1,262.8 L590.7,262.0 L591.3,261.1 L591.9,260.3 L592.5,259.6 L593.1,258.8 L593.7,258.1 L594.4,257.4 L595.0,256.7 L595.7,256.0 L596.4,255.3 L597.1,254.6 L597.9,253.9 L598.6,253.3 L599.5,252.6 L598.5,251.4 L597.7,252.0 L596.8,252.6 L596.0,253.3 L595.2,253.9 L594.4,254.5 L593.6,255.2 L592.9,255.9 L592.1,256.6 L591.4,257.3 L590.7,258.0 L590.0,258.8 L589.3,259.6 L588.6,260.4 L587.9,261.2Z"/><circle cx="589.0" cy="262.0" r="1.35"/><circle cx="599.0" cy="252.0" r="0.75"/>
</g>

<path class="ol" d="M379.5,383 L380.1,365.8 L379.5,343.8 C378.5,336 377.5,330 376.2,324.1 C375.5,320 375,316 374.4,312.0 C373.0,310.7 369.6,306.6 366.0,304.0 C362.4,301.4 357.7,301.9 353.0,296.7 C348.3,291.5 341.7,281.3 338.0,273.0 C334.3,264.7 332.2,255.5 331.0,247.0 C329.8,238.5 329.6,229.8 330.7,222.0 C331.8,214.2 334.3,207.0 337.5,200.0 C340.7,193.0 343.8,186.9 350.0,180.0 C356.2,173.1 366.6,164.2 375.0,158.8 C383.4,153.4 391.8,150.8 400.2,147.6 C408.6,144.4 417.0,141.5 425.3,139.5 C433.6,137.5 441.6,136.4 450.0,135.5 C458.4,134.6 467.1,134.5 475.4,134.3 C483.7,134.1 491.6,133.9 500.0,134.5 C508.4,135.1 517.0,136.1 525.5,137.9 C534.0,139.7 542.5,142.1 551.0,145.5 C559.5,148.9 569.4,153.2 576.6,158.3 C583.9,163.4 589.4,169.8 594.5,176.2 C599.6,182.6 604.4,189.3 607.3,196.6 C610.2,203.9 611.1,212.8 611.7,220.0 C612.3,227.2 612.5,232.1 611.0,240.0 C609.5,247.9 605.7,259.6 602.6,267.6 C599.5,275.6 596.2,282.3 592.4,288.0 C588.6,293.7 583.7,298.2 580.0,302.0 C576.3,305.8 571.7,309.5 570.0,311.0 C566,319 564.5,324 563.6,328.4 C562,335 561,340 560.7,345.9 L559.3,366 L560,383"/>
<g stroke="#111" stroke-width="1.2" fill="none">
<path transform="translate(421.5,192.7) rotate(-27)" d="M-3.3,-3 L3.3,3 M3.3,-3 L-3.3,3"/>
<path transform="translate(432,187.2) rotate(-22)" d="M-3.3,-3 L3.3,3 M3.3,-3 L-3.3,3"/>
<path transform="translate(442.3,183.1) rotate(-17)" d="M-3.3,-3 L3.3,3 M3.3,-3 L-3.3,3"/>
<path transform="translate(453.6,180.1) rotate(-11)" d="M-3.3,-3 L3.3,3 M3.3,-3 L-3.3,3"/>
<path transform="translate(464.8,178.4) rotate(-6)" d="M-3.3,-3 L3.3,3 M3.3,-3 L-3.3,3"/>
<path transform="translate(476.1,178.1) rotate(0)" d="M-3.3,-3 L3.3,3 M3.3,-3 L-3.3,3"/>
<path transform="translate(487.4,179.4) rotate(6)" d="M-3.3,-3 L3.3,3 M3.3,-3 L-3.3,3"/>
<path transform="translate(498.7,182.1) rotate(11)" d="M-3.3,-3 L3.3,3 M3.3,-3 L-3.3,3"/>
<path transform="translate(509.2,185.9) rotate(17)" d="M-3.3,-3 L3.3,3 M3.3,-3 L-3.3,3"/>
<path transform="translate(519.2,191.4) rotate(22)" d="M-3.3,-3 L3.3,3 M3.3,-3 L-3.3,3"/>
<path transform="translate(427.8,204.7) rotate(-24)" d="M-3.3,-3 L3.3,3 M3.3,-3 L-3.3,3"/>
<path transform="translate(438.3,198.2) rotate(-19)" d="M-3.3,-3 L3.3,3 M3.3,-3 L-3.3,3"/>
<path transform="translate(449.6,193.9) rotate(-13)" d="M-3.3,-3 L3.3,3 M3.3,-3 L-3.3,3"/>
<path transform="translate(462.1,192.2) rotate(-7)" d="M-3.3,-3 L3.3,3 M3.3,-3 L-3.3,3"/>
<path transform="translate(473.6,191.4) rotate(-1)" d="M-3.3,-3 L3.3,3 M3.3,-3 L-3.3,3"/>
<path transform="translate(485.4,193.2) rotate(5)" d="M-3.3,-3 L3.3,3 M3.3,-3 L-3.3,3"/>
<path transform="translate(496.7,196.9) rotate(10)" d="M-3.3,-3 L3.3,3 M3.3,-3 L-3.3,3"/>
<path transform="translate(508.5,200.7) rotate(16)" d="M-3.3,-3 L3.3,3 M3.3,-3 L-3.3,3"/>
<path transform="translate(518,207.2) rotate(21)" d="M-3.3,-3 L3.3,3 M3.3,-3 L-3.3,3"/>
</g>
<use href="#oa" transform="translate(401.9,155.6) rotate(-38.5)"/>
<use href="#oa" transform="translate(477.5,139) scale(1.03,0.97)"/>
<use href="#oa" transform="translate(560,154.6) rotate(38.5)"/>
<path class="ld" d="M418,107 L471.4,164"/><circle cx="471.4" cy="164.1" r="2.7"/>
<path class="ld" d="M568,68 L491,189.5"/><circle cx="491.1" cy="189.8" r="2.8"/>
<path class="ld" d="M641,110 L534.5,215.5"/><circle cx="534.3" cy="215.2" r="2.6"/>
<path class="ld" d="M625,168 L578.5,218.5"/><circle cx="578.3" cy="218.8" r="2.6"/>
<path class="ld" d="M383.9,248.9 L474.8,308 L554.3,251.4"/><circle cx="383.9" cy="248.9" r="2.8"/><circle cx="554.3" cy="251.4" r="2.8"/>
<text class="b" x="415" y="74.6" textLength="125" lengthAdjust="spacingAndGlyphs">MECHANICAL LOADING</text>
<text class="t" x="414" y="93.8" text-anchor="end">Subchondral fracture</text>
<text class="t" x="414" y="105.6" text-anchor="end">or cartilage separation</text>
<text class="t" x="606.7" y="62.3" text-anchor="middle">Area of trabecular</text>
<text class="t" x="606.7" y="74.3" text-anchor="middle">compression</text>
<text class="t" x="627.7" y="91.7">Area of</text>
<text class="t" x="627.7" y="103.7">resorption</text>
<text class="t" x="627.7" y="149.7">Asymmetric</text>
<text class="t" x="627.7" y="161.7">restoration of</text>
<text class="t" x="627.7" y="173.7">endochondral</text>
<text class="t" x="627.7" y="185.7">ossification</text>
<text class="t" x="394.6" y="320.4" textLength="157.7" lengthAdjust="spacingAndGlyphs">Revascularization, ossification of</text>
<text class="t" x="412" y="333.3" textLength="123.4" lengthAdjust="spacingAndGlyphs">cartilage in the periphery,</text>
<text class="t" x="398" y="346.6" textLength="147.8" lengthAdjust="spacingAndGlyphs">and resorption of necrotic bone</text>
<text class="t" style="font-size:11.3px" x="331.4" y="408" textLength="277.3" lengthAdjust="spacingAndGlyphs">© Copyright 2010 Texas Scottish Rite Hospital for Children</text>
</g>
<g id="p3">
<defs>
<linearGradient id="bx3" x1="779" y1="0" x2="887" y2="0" gradientUnits="userSpaceOnUse">
<stop offset="0" stop-color="#fbf8f1"/><stop offset="0.1" stop-color="#f8f2e6"/><stop offset="0.3" stop-color="#e8d0a4"/><stop offset="0.5" stop-color="#dfbd84"/><stop offset="0.7" stop-color="#e8d0a4"/><stop offset="0.9" stop-color="#f8f2e6"/><stop offset="1" stop-color="#fbf8f1"/>
</linearGradient>
</defs>
<path d="M737.8,314.0 C736.7,313.1 734.1,311.4 731.0,308.8 C727.9,306.2 723.4,302.6 719.1,298.6 C714.9,294.6 709.5,290.1 705.5,285.0 C701.5,279.9 698.0,274.2 695.3,268.0 C692.6,261.8 690.6,254.3 689.5,247.6 C688.4,240.9 688.0,234.3 688.5,228.0 C689.0,221.7 690.6,216.3 692.5,210.0 C694.4,203.7 695.9,195.9 700.0,190.0 C704.1,184.1 710.3,179.2 717.1,174.8 C723.9,170.4 735.1,165.9 741.0,163.3 C746.9,160.8 747.8,160.3 752.2,159.5 C756.7,158.7 762.2,157.9 767.7,158.3 C773.2,158.8 778.8,160.3 785.4,162.2 C792.0,164.1 800.9,167.8 807.5,169.9 C814.1,172.0 820.4,173.6 825.3,174.6 C830.2,175.6 832.2,176.4 837.0,176.2 C841.8,176.0 847.8,175.0 854.0,173.2 C860.2,171.4 867.4,167.9 874.0,165.5 C880.6,163.1 887.6,160.2 893.9,158.8 C900.2,157.4 905.8,156.6 911.7,156.8 C917.6,157.0 924.2,158.5 929.4,159.9 C934.6,161.3 937.4,161.8 942.7,165.5 C948.1,169.2 955.4,174.8 961.5,182.1 C967.6,189.4 975.3,201.3 979.5,209.5 C983.7,217.7 985.5,224.1 986.5,231.0 C987.5,237.9 986.9,244.3 985.5,251.0 C984.1,257.7 981.2,265.2 978.0,271.4 C974.8,277.6 970.6,283.3 966.1,288.4 C961.6,293.5 955.6,298.3 950.8,302.0 C946.0,305.7 940.6,307.9 937.2,310.5 C933.8,313.1 931.5,316.2 930.4,317.3 Z" fill="#a9d6f1"/>
<path d="M738,312 C739,303 745,298 756,294.5 C775,289 800,285.5 828.6,284.5 C860,284.5 890,289 908,295.5 C920,300 927,307 930,317.500 L930,321 L738,321 Z" fill="#fff"/>
<path class="ol" filter="url(#fz)" stroke="#85888d" d="M738,312 C739,303 745,298 756,294.5 C775,289 800,285.5 828.6,284.5 C860,284.5 890,289 908,295.5 C920,300 927,307 930,317.500"/>
<clipPath id="cpk3"><path d="M752,188.600 C757,186.200 763,185.200 768.500,186 C773.500,187 776,190.500 777.500,196 C780.500,204 783,212 786,218 C789,224 793,227 799,228.500 L873,228 C878,227 881,223 883.500,217 C885.500,211 886.500,203 888,196.500 C889.500,190.500 893,188 898,186 C905,183 914,183.500 921,186.500 C929,190.500 935,198 939.500,207.500 C943,215 945,220 945.500,226  C945.4,228.7 946.2,237.7 944.7,242.2 C943.2,246.7 941.0,250.3 936.5,253.0 C932.0,255.7 926.1,257.7 917.5,258.5 C908.9,259.3 894.9,258.9 884.9,258.0 C874.9,257.1 866.3,254.5 857.7,253.0 C849.1,251.5 841.4,249.0 833.2,249.0 C825.1,249.0 816.5,251.4 808.8,253.0 C801.1,254.6 795.2,257.5 787.0,258.5 C778.8,259.5 767.5,259.9 759.8,259.0 C752.1,258.1 745.5,255.8 740.8,253.0 C736.0,250.2 733.3,246.7 731.3,242.2 C729.2,237.7 729.0,228.6 728.5,225.9 C729,218 731.500,213 734.500,208.500 C739,201.500 744.500,194 752,188.600 Z"/></clipPath>
<path d="M752,188.600 C757,186.200 763,185.200 768.500,186 C773.500,187 776,190.500 777.500,196 C780.500,204 783,212 786,218 C789,224 793,227 799,228.500 L873,228 C878,227 881,223 883.500,217 C885.500,211 886.500,203 888,196.500 C889.500,190.500 893,188 898,186 C905,183 914,183.500 921,186.500 C929,190.500 935,198 939.500,207.500 C943,215 945,220 945.500,226  C945.4,228.7 946.2,237.7 944.7,242.2 C943.2,246.7 941.0,250.3 936.5,253.0 C932.0,255.7 926.1,257.7 917.5,258.5 C908.9,259.3 894.9,258.9 884.9,258.0 C874.9,257.1 866.3,254.5 857.7,253.0 C849.1,251.5 841.4,249.0 833.2,249.0 C825.1,249.0 816.5,251.4 808.8,253.0 C801.1,254.6 795.2,257.5 787.0,258.5 C778.8,259.5 767.5,259.9 759.8,259.0 C752.1,258.1 745.5,255.8 740.8,253.0 C736.0,250.2 733.3,246.7 731.3,242.2 C729.2,237.7 729.0,228.6 728.5,225.9 C729,218 731.500,213 734.500,208.500 C739,201.500 744.500,194 752,188.600 Z" fill="#f5d0bd"/>
<path d="M752,188.600 C757,186.200 763,185.200 768.500,186 C773.500,187 776,190.500 777.500,196 C780.500,204 783,212 786,218 C789,224 793,227 799,228.500 L873,228 C878,227 881,223 883.500,217 C885.500,211 886.500,203 888,196.500 C889.500,190.500 893,188 898,186 C905,183 914,183.500 921,186.500 C929,190.500 935,198 939.500,207.500 C943,215 945,220 945.500,226  C945.4,228.7 946.2,237.7 944.7,242.2 C943.2,246.7 941.0,250.3 936.5,253.0 C932.0,255.7 926.1,257.7 917.5,258.5 C908.9,259.3 894.9,258.9 884.9,258.0 C874.9,257.1 866.3,254.5 857.7,253.0 C849.1,251.5 841.4,249.0 833.2,249.0 C825.1,249.0 816.5,251.4 808.8,253.0 C801.1,254.6 795.2,257.5 787.0,258.5 C778.8,259.5 767.5,259.9 759.8,259.0 C752.1,258.1 745.5,255.8 740.8,253.0 C736.0,250.2 733.3,246.7 731.3,242.2 C729.2,237.7 729.0,228.6 728.5,225.9 C729,218 731.500,213 734.500,208.500 C739,201.500 744.500,194 752,188.600 Z" fill="none" stroke="#f0d6b4" stroke-width="9" clip-path="url(#cpk3)" filter="url(#bl1)"/>
<path d="M752,188.600 C757,186.200 763,185.200 768.500,186 C773.500,187 776,190.500 777.500,196 C780.500,204 783,212 786,218 C789,224 793,227 799,228.500 L873,228 C878,227 881,223 883.500,217 C885.500,211 886.500,203 888,196.500 C889.500,190.500 893,188 898,186 C905,183 914,183.500 921,186.500 C929,190.500 935,198 939.500,207.500 C943,215 945,220 945.500,226  C945.4,228.7 946.2,237.7 944.7,242.2 C943.2,246.7 941.0,250.3 936.5,253.0 C932.0,255.7 926.1,257.7 917.5,258.5 C908.9,259.3 894.9,258.9 884.9,258.0 C874.9,257.1 866.3,254.5 857.7,253.0 C849.1,251.5 841.4,249.0 833.2,249.0 C825.1,249.0 816.5,251.4 808.8,253.0 C801.1,254.6 795.2,257.5 787.0,258.5 C778.8,259.5 767.5,259.9 759.8,259.0 C752.1,258.1 745.5,255.8 740.8,253.0 C736.0,250.2 733.3,246.7 731.3,242.2 C729.2,237.7 729.0,228.6 728.5,225.9 C729,218 731.500,213 734.500,208.500 C739,201.500 744.500,194 752,188.600 Z" fill="none" stroke="#e5cba4" stroke-width="3"/>
<!-- box -->
<path d="M777.5,194 C795,201 815,204 832,204 C850,204 870,201 886,194 C885.300,205 883.200,215 878.500,221.500 C875.500,225.500 872,227 867,227 L799,227 C793,226.500 788.500,223 785.500,216.500 C782,209 779,201 777.500,194 Z" fill="none" stroke="#c9b591" stroke-width="5"/>
<path d="M777.5,194 C795,201 815,204 832,204 C850,204 870,201 886,194 C885.300,205 883.200,215 878.500,221.500 C875.500,225.500 872,227 867,227 L799,227 C793,226.500 788.500,223 785.500,216.500 C782,209 779,201 777.500,194 Z" fill="url(#bx3)" stroke="#fff" stroke-width="3.6"/>
<path d="M781.0,199.0 C784.7,199.9 794.5,203.2 803.0,204.5 C811.5,205.8 822.3,207.0 832.0,207.0 C841.7,207.0 852.3,205.9 861.0,204.5 C869.7,203.1 880.2,199.5 884.0,198.5" fill="none" stroke="#a88a5c" stroke-width="1.6" filter="url(#bl1)" opacity="0.8"/>
<!-- white fracture band -->
<path d="M775.5,194.5 C780.1,195.5 793.6,199.0 803.0,200.4 C812.4,201.8 822.3,203.0 832.0,203.0 C841.7,203.0 851.6,201.9 861.0,200.4 C870.4,198.9 883.9,195.1 888.5,194.0" fill="none" stroke="#8b8d90" stroke-width="5.6"/>
<path d="M775.5,194.5 C780.1,195.5 793.6,199.0 803.0,200.4 C812.4,201.8 822.3,203.0 832.0,203.0 C841.7,203.0 851.6,201.9 861.0,200.4 C870.4,198.9 883.9,195.1 888.5,194.0" fill="none" stroke="#fff" stroke-width="3.8"/>
<path class="dash" d="M768.8,179.0 C773.8,180.4 788.4,185.3 798.9,187.4 C809.4,189.5 821.0,191.3 832.0,191.3 C843.0,191.3 854.6,189.5 865.0,187.4 C875.4,185.3 889.3,180.4 894.2,179.0"/>
<path class="dash" d="M776.5,184.5 C780.9,185.8 793.5,190.4 802.8,192.4 C812.0,194.4 822.3,196.5 832.0,196.5 C841.7,196.5 852.0,194.4 861.2,192.4 C870.4,190.4 883.0,185.8 887.4,184.5"/>
<g fill="#e31d2d"><path d="M734.4,360.2 L733.5,357.8 L732.7,355.6 L731.9,353.4 L731.2,351.3 L730.5,349.3 L729.8,347.3 L729.2,345.4 L728.6,343.5 L728.1,341.7 L727.7,339.9 L727.3,338.1 L726.9,336.3 L726.6,334.5 L726.4,332.6 L726.1,330.3 L725.8,328.0 L725.5,325.7 L725.2,323.5 L725.0,321.3 L724.8,319.1 L724.6,316.9 L724.4,314.7 L724.3,312.6 L724.1,310.5 L724.1,308.4 L724.0,306.3 L724.0,304.2 L724.0,302.1 L724.1,299.9 L724.1,297.7 L724.2,295.5 L724.3,293.2 L724.4,290.9 L724.6,288.5 L724.7,286.2 L724.9,283.9 L725.1,281.6 L725.4,279.3 L725.6,277.0 L725.9,274.8 L726.3,272.6 L726.7,270.6 L727.1,269.0 L727.6,267.3 L728.1,265.5 L728.8,263.7 L729.5,261.9 L730.4,260.0 L731.3,258.1 L732.3,256.2 L733.5,254.3 L734.7,252.4 L736.1,250.5 L737.6,248.6 L739.3,246.7 L741.2,244.8 L737.4,241.2 L735.5,243.1 L733.6,245.2 L731.9,247.3 L730.4,249.4 L729.0,251.5 L727.7,253.6 L726.5,255.6 L725.5,257.7 L724.6,259.7 L723.8,261.8 L723.0,263.7 L722.4,265.7 L721.8,267.5 L721.3,269.4 L720.9,271.7 L720.5,274.0 L720.2,276.3 L719.9,278.7 L719.6,281.0 L719.4,283.4 L719.2,285.8 L719.0,288.2 L718.9,290.5 L718.7,292.9 L718.6,295.2 L718.5,297.5 L718.5,299.7 L718.4,301.9 L718.4,304.1 L718.4,306.3 L718.4,308.5 L718.5,310.7 L718.6,312.9 L718.7,315.1 L718.9,317.4 L719.0,319.6 L719.3,321.8 L719.5,324.1 L719.7,326.4 L720.0,328.7 L720.3,331.0 L720.6,333.4 L720.9,335.3 L721.2,337.3 L721.5,339.3 L722.0,341.2 L722.5,343.2 L723.0,345.2 L723.6,347.1 L724.2,349.1 L724.9,351.2 L725.6,353.3 L726.3,355.4 L727.1,357.6 L727.9,359.9 L728.8,362.2Z"/><circle cx="731.6" cy="361.2" r="3.00"/><circle cx="739.3" cy="243.0" r="2.62"/>
<path d="M741.1,244.2 L741.6,243.4 L742.1,242.6 L742.6,241.9 L743.1,241.3 L743.5,240.7 L743.9,240.1 L744.3,239.6 L744.7,239.1 L745.1,238.7 L745.4,238.3 L745.7,237.9 L746.0,237.5 L746.3,237.2 L746.7,236.6 L747.3,235.2 L747.7,233.9 L748.2,232.7 L748.7,231.4 L749.1,230.1 L749.5,228.8 L749.9,227.5 L750.2,226.3 L750.5,225.0 L750.8,223.7 L751.0,222.5 L751.2,221.2 L751.3,220.0 L751.4,218.8 L751.4,217.5 L751.4,216.3 L751.4,215.0 L751.4,213.7 L751.3,212.5 L751.3,211.2 L751.1,209.9 L751.0,208.7 L750.9,207.4 L750.7,206.2 L750.5,205.0 L750.3,203.8 L750.0,202.6 L749.8,201.4 L749.5,200.3 L749.2,199.2 L748.8,198.1 L748.5,197.1 L748.1,196.1 L747.8,195.1 L747.4,194.1 L747.0,193.1 L746.6,192.2 L746.2,191.3 L745.8,190.4 L745.4,189.5 L744.9,188.7 L744.5,187.9 L743.1,188.5 L743.5,189.4 L743.9,190.2 L744.3,191.1 L744.7,192.0 L745.0,192.9 L745.4,193.8 L745.7,194.7 L746.0,195.7 L746.3,196.7 L746.6,197.7 L746.9,198.7 L747.2,199.7 L747.4,200.8 L747.6,201.8 L747.8,203.0 L748.0,204.1 L748.2,205.3 L748.3,206.5 L748.4,207.7 L748.5,208.9 L748.6,210.1 L748.6,211.3 L748.7,212.6 L748.7,213.8 L748.6,215.0 L748.6,216.2 L748.5,217.4 L748.4,218.6 L748.3,219.7 L748.1,220.8 L747.9,221.9 L747.6,223.1 L747.3,224.2 L747.0,225.4 L746.6,226.6 L746.2,227.8 L745.8,229.0 L745.3,230.2 L744.8,231.4 L744.3,232.5 L743.8,233.7 L743.3,234.8 L743.3,234.8 L743.0,235.1 L742.7,235.4 L742.4,235.8 L742.1,236.1 L741.7,236.6 L741.3,237.1 L740.8,237.6 L740.3,238.2 L739.8,238.8 L739.3,239.5 L738.7,240.2 L738.1,241.0 L737.5,241.8Z"/><circle cx="739.3" cy="243.0" r="2.12"/><circle cx="743.8" cy="188.2" r="0.75"/>
<path d="M751.0,223.3 L751.7,222.5 L752.5,221.6 L753.2,220.8 L754.0,219.9 L754.7,219.0 L755.4,218.1 L756.1,217.3 L756.8,216.3 L757.5,215.4 L758.2,214.5 L758.8,213.6 L759.4,212.6 L760.0,211.6 L760.6,210.7 L761.2,209.7 L761.7,208.6 L762.3,207.6 L762.8,206.5 L763.3,205.5 L763.7,204.4 L764.2,203.3 L764.6,202.2 L764.9,201.1 L765.3,200.0 L765.6,199.0 L765.9,197.9 L766.2,196.8 L766.4,195.7 L765.0,195.3 L764.7,196.4 L764.4,197.4 L764.0,198.5 L763.7,199.5 L763.3,200.5 L762.9,201.6 L762.4,202.6 L762.0,203.6 L761.5,204.6 L761.0,205.6 L760.4,206.6 L759.9,207.6 L759.3,208.5 L758.6,209.5 L758.1,210.4 L757.4,211.3 L756.8,212.2 L756.2,213.1 L755.5,213.9 L754.8,214.8 L754.1,215.6 L753.4,216.4 L752.6,217.3 L751.9,218.1 L751.1,218.9 L750.4,219.7 L749.6,220.5 L748.8,221.3Z"/><circle cx="749.9" cy="222.3" r="1.50"/><circle cx="765.7" cy="195.5" r="0.75"/>
<path d="M747.3,234.5 L748.3,233.6 L749.3,232.7 L750.3,231.8 L751.3,231.0 L752.3,230.2 L753.3,229.3 L754.4,228.5 L755.4,227.8 L756.4,227.0 L757.4,226.2 L758.4,225.5 L759.5,224.8 L760.5,224.1 L761.5,223.3 L762.4,222.8 L763.2,222.2 L764.1,221.6 L764.9,221.1 L765.8,220.6 L766.6,220.1 L767.5,219.7 L768.3,219.3 L769.1,218.8 L770.0,218.5 L770.8,218.1 L771.6,217.8 L772.5,217.4 L773.2,217.2 L773.9,217.0 L774.7,217.0 L775.5,217.0 L776.2,217.0 L776.9,217.1 L777.7,217.3 L778.4,217.5 L779.1,217.7 L779.9,218.0 L780.6,218.4 L781.3,218.7 L782.1,219.2 L782.8,219.6 L783.6,220.1 L784.4,218.9 L783.7,218.3 L782.9,217.8 L782.1,217.3 L781.4,216.9 L780.6,216.5 L779.8,216.1 L779.0,215.8 L778.1,215.6 L777.3,215.4 L776.4,215.2 L775.6,215.1 L774.7,215.1 L773.8,215.1 L772.8,215.2 L771.8,215.5 L770.9,215.8 L770.0,216.2 L769.2,216.5 L768.3,216.9 L767.4,217.3 L766.5,217.7 L765.6,218.1 L764.7,218.6 L763.8,219.1 L762.9,219.6 L761.9,220.1 L761.0,220.7 L760.1,221.3 L759.1,221.9 L758.0,222.6 L756.9,223.3 L755.9,224.0 L754.8,224.7 L753.7,225.5 L752.6,226.2 L751.6,227.0 L750.5,227.8 L749.4,228.6 L748.3,229.4 L747.3,230.3 L746.2,231.2 L745.1,232.1Z"/><circle cx="746.2" cy="233.3" r="1.62"/><circle cx="784.0" cy="219.5" r="0.75"/>
<path d="M746.4,234.9 L745.7,233.8 L745.1,232.7 L744.5,231.7 L743.8,230.6 L743.2,229.5 L742.6,228.5 L742.0,227.4 L741.3,226.4 L740.7,225.4 L740.1,224.4 L739.4,223.4 L738.8,222.4 L738.1,221.4 L737.5,220.5 L736.9,219.6 L736.3,218.8 L735.7,217.9 L735.1,217.1 L734.5,216.3 L733.8,215.5 L733.2,214.8 L732.5,214.0 L731.9,213.2 L731.2,212.5 L730.6,211.8 L729.9,211.0 L729.2,210.3 L728.6,209.6 L727.4,210.6 L728.1,211.3 L728.7,212.1 L729.3,212.8 L729.9,213.6 L730.5,214.4 L731.1,215.1 L731.7,215.9 L732.3,216.7 L732.9,217.5 L733.4,218.3 L734.0,219.1 L734.5,220.0 L735.0,220.8 L735.5,221.7 L736.2,222.7 L736.7,223.7 L737.3,224.7 L737.9,225.7 L738.4,226.7 L739.0,227.7 L739.5,228.8 L740.1,229.8 L740.7,230.9 L741.2,232.0 L741.8,233.1 L742.4,234.2 L743.0,235.4 L743.6,236.5Z"/><circle cx="745.0" cy="235.7" r="1.62"/><circle cx="728.0" cy="210.1" r="0.75"/>
<path d="M732.8,252.2 L732.2,251.4 L731.7,250.5 L731.1,249.6 L730.5,248.8 L730.0,247.9 L729.4,247.0 L728.9,246.1 L728.4,245.2 L727.8,244.4 L727.3,243.5 L726.8,242.6 L726.2,241.8 L725.7,240.9 L725.1,239.9 L724.4,239.3 L723.8,238.7 L723.1,238.2 L722.5,237.8 L721.8,237.3 L721.2,236.8 L720.5,236.4 L719.9,236.0 L719.3,235.6 L718.6,235.2 L718.0,234.8 L717.4,234.5 L716.8,234.2 L716.2,233.8 L715.4,235.2 L716.0,235.5 L716.6,235.9 L717.1,236.2 L717.7,236.6 L718.3,237.0 L718.9,237.4 L719.5,237.9 L720.1,238.3 L720.7,238.8 L721.3,239.3 L721.8,239.8 L722.4,240.3 L723.0,240.8 L723.5,241.3 L723.8,242.0 L724.3,242.9 L724.7,243.7 L725.2,244.6 L725.7,245.6 L726.2,246.5 L726.7,247.4 L727.2,248.3 L727.7,249.3 L728.2,250.2 L728.7,251.1 L729.2,252.0 L729.7,252.9 L730.2,253.8Z"/><circle cx="731.5" cy="253.0" r="1.50"/><circle cx="715.8" cy="234.5" r="0.75"/>
<path d="M727.7,261.9 L727.4,261.3 L727.1,260.7 L726.8,260.1 L726.5,259.4 L726.2,258.8 L725.9,258.2 L725.7,257.6 L725.4,257.0 L725.2,256.4 L725.0,255.8 L724.7,255.3 L724.5,254.7 L724.3,254.1 L724.0,253.4 L723.6,252.8 L723.3,252.4 L723.0,251.9 L722.7,251.5 L722.4,251.0 L722.2,250.6 L721.9,250.2 L721.7,249.7 L721.5,249.3 L721.3,248.9 L721.1,248.5 L721.0,248.1 L720.9,247.7 L720.7,247.3 L719.3,247.7 L719.4,248.1 L719.5,248.6 L719.6,249.1 L719.8,249.5 L720.0,250.0 L720.1,250.5 L720.4,250.9 L720.6,251.4 L720.8,251.9 L721.1,252.4 L721.3,252.9 L721.6,253.4 L721.9,253.9 L722.2,254.4 L722.3,254.8 L722.5,255.4 L722.7,256.0 L722.9,256.6 L723.0,257.2 L723.3,257.8 L723.5,258.5 L723.7,259.1 L723.9,259.8 L724.2,260.4 L724.4,261.1 L724.7,261.8 L725.0,262.4 L725.3,263.1Z"/><circle cx="726.5" cy="262.5" r="1.38"/><circle cx="720.0" cy="247.5" r="0.75"/>
<path d="M723.4,275.2 L722.7,274.4 L721.9,273.5 L721.2,272.7 L720.5,271.9 L719.8,271.1 L719.1,270.2 L718.5,269.4 L717.9,268.6 L717.3,267.8 L716.7,267.0 L716.1,266.1 L715.6,265.3 L715.1,264.5 L714.7,263.7 L713.3,264.3 L713.8,265.2 L714.2,266.1 L714.7,267.0 L715.2,267.9 L715.7,268.8 L716.3,269.7 L716.9,270.6 L717.5,271.5 L718.1,272.4 L718.8,273.3 L719.4,274.1 L720.1,275.0 L720.8,275.9 L721.6,276.8Z"/><circle cx="722.5" cy="276.0" r="1.25"/><circle cx="714.0" cy="264.0" r="0.75"/>
<path d="M742.5,246.9 L743.9,245.9 L745.3,244.9 L746.8,243.9 L748.2,242.9 L749.8,242.0 L751.3,241.0 L752.9,240.1 L754.4,239.3 L756.0,238.4 L757.6,237.6 L759.2,236.8 L760.7,236.0 L762.3,235.3 L763.8,234.6 L765.2,233.9 L766.6,233.4 L768.0,232.8 L769.4,232.3 L770.8,231.7 L772.2,231.3 L773.5,230.8 L774.9,230.3 L776.2,229.9 L777.6,229.5 L778.9,229.1 L780.3,228.8 L781.6,228.4 L782.9,228.1 L783.6,228.0 L784.3,227.8 L785.0,227.6 L785.7,227.5 L786.3,227.3 L787.0,227.1 L787.7,227.0 L788.3,226.8 L789.0,226.6 L789.6,226.4 L790.3,226.3 L790.9,226.1 L791.6,225.9 L792.2,225.7 L791.8,224.3 L791.2,224.4 L790.5,224.6 L789.9,224.7 L789.2,224.9 L788.6,225.0 L787.9,225.2 L787.3,225.3 L786.6,225.5 L785.9,225.6 L785.3,225.7 L784.6,225.9 L783.9,226.0 L783.2,226.1 L782.5,226.3 L781.2,226.5 L779.8,226.8 L778.4,227.1 L777.0,227.5 L775.7,227.8 L774.3,228.2 L772.8,228.6 L771.4,229.0 L770.0,229.5 L768.6,229.9 L767.1,230.4 L765.7,230.9 L764.2,231.5 L762.8,232.0 L761.2,232.7 L759.5,233.4 L757.9,234.1 L756.3,234.9 L754.6,235.7 L753.0,236.5 L751.3,237.3 L749.7,238.1 L748.1,239.0 L746.5,239.9 L744.9,240.9 L743.3,241.9 L741.8,242.9 L740.3,243.9Z"/><circle cx="741.4" cy="245.4" r="1.88"/><circle cx="792.0" cy="225.0" r="0.75"/>
<path d="M739.3,245.1 L740.9,245.1 L742.5,245.1 L744.1,245.2 L745.6,245.2 L747.2,245.3 L748.7,245.4 L750.2,245.5 L751.8,245.6 L753.3,245.7 L754.8,245.7 L756.3,245.8 L757.8,245.9 L759.3,246.0 L760.7,246.0 L762.5,246.0 L764.3,246.0 L766.1,245.9 L767.9,245.8 L769.6,245.6 L771.4,245.5 L773.1,245.3 L774.9,245.1 L776.6,245.0 L778.3,244.8 L780.0,244.7 L781.8,244.5 L783.5,244.4 L785.2,244.4 L786.9,244.4 L788.5,244.4 L790.2,244.4 L791.9,244.5 L793.5,244.6 L795.2,244.7 L796.9,244.8 L798.6,244.9 L800.3,245.0 L802.1,245.1 L803.8,245.2 L805.5,245.3 L807.2,245.4 L808.9,245.5 L810.3,245.5 L811.6,245.5 L812.9,245.4 L814.2,245.3 L815.5,245.2 L816.8,245.0 L818.0,244.7 L819.3,244.5 L820.5,244.2 L821.7,243.8 L822.9,243.5 L824.1,243.1 L825.3,242.6 L826.4,242.2 L825.8,240.8 L824.7,241.2 L823.6,241.6 L822.5,241.9 L821.3,242.2 L820.1,242.5 L818.9,242.8 L817.7,243.0 L816.5,243.2 L815.3,243.3 L814.0,243.4 L812.8,243.5 L811.5,243.5 L810.3,243.5 L809.1,243.5 L807.4,243.3 L805.7,243.2 L803.9,243.0 L802.2,242.9 L800.5,242.7 L798.8,242.5 L797.1,242.4 L795.4,242.2 L793.7,242.0 L792.0,241.9 L790.3,241.8 L788.6,241.7 L786.9,241.6 L785.2,241.6 L783.4,241.6 L781.6,241.6 L779.9,241.7 L778.1,241.8 L776.4,241.9 L774.6,242.0 L772.9,242.1 L771.1,242.2 L769.4,242.3 L767.7,242.4 L766.0,242.5 L764.3,242.5 L762.6,242.5 L760.9,242.4 L759.4,242.3 L758.0,242.2 L756.5,242.1 L755.0,242.0 L753.6,241.9 L752.1,241.7 L750.5,241.6 L749.0,241.4 L747.4,241.3 L745.9,241.2 L744.3,241.1 L742.6,241.0 L741.0,240.9 L739.3,240.9Z"/><circle cx="739.3" cy="243.0" r="2.12"/><circle cx="826.1" cy="241.5" r="0.75"/>
<path d="M786.3,243.6 L786.7,242.7 L787.2,241.9 L787.6,241.0 L788.1,240.1 L788.5,239.2 L788.9,238.3 L789.3,237.4 L789.7,236.6 L790.1,235.7 L790.4,234.8 L790.8,233.9 L791.1,233.0 L791.4,232.1 L791.7,231.3 L790.3,230.7 L789.9,231.6 L789.6,232.4 L789.2,233.2 L788.8,234.1 L788.4,234.9 L787.9,235.7 L787.5,236.6 L787.1,237.4 L786.6,238.2 L786.1,239.1 L785.6,239.9 L785.1,240.7 L784.6,241.5 L784.1,242.4Z"/><circle cx="785.2" cy="243.0" r="1.25"/><circle cx="791.0" cy="231.0" r="0.75"/>
<path d="M810.3,245.1 L810.7,243.9 L811.2,242.7 L811.7,241.4 L812.1,240.2 L812.6,239.1 L813.0,237.9 L813.4,236.7 L813.8,235.5 L814.2,234.4 L814.6,233.2 L814.9,232.1 L815.3,231.0 L815.7,229.8 L816.0,228.8 L814.6,228.2 L814.2,229.3 L813.7,230.4 L813.3,231.5 L812.8,232.6 L812.4,233.7 L811.9,234.8 L811.4,235.9 L810.9,237.1 L810.4,238.2 L809.9,239.3 L809.4,240.5 L808.9,241.6 L808.3,242.8 L807.7,243.9Z"/><circle cx="809.0" cy="244.5" r="1.38"/><circle cx="815.3" cy="228.5" r="0.75"/>
<path d="M763.2,245.3 L764.2,245.9 L765.1,246.6 L766.1,247.2 L767.1,247.7 L768.1,248.2 L769.2,248.7 L770.2,249.1 L771.3,249.5 L772.4,249.8 L773.5,250.1 L774.6,250.3 L775.7,250.5 L776.8,250.6 L777.9,250.7 L778.1,249.3 L777.0,249.1 L776.0,248.9 L775.0,248.6 L774.0,248.4 L773.0,248.0 L772.0,247.6 L771.0,247.2 L770.0,246.8 L769.1,246.3 L768.2,245.8 L767.3,245.2 L766.4,244.6 L765.6,244.0 L764.8,243.3Z"/><circle cx="764.0" cy="244.3" r="1.25"/><circle cx="778.0" cy="250.0" r="0.75"/>
<path d="M825.3,240.7 L825.9,241.3 L826.6,241.9 L827.1,242.5 L827.7,243.0 L828.3,243.5 L828.8,244.0 L829.3,244.4 L829.8,244.9 L830.3,245.3 L830.7,245.7 L831.2,246.1 L831.6,246.4 L832.1,246.8 L832.5,247.1 L833.5,245.9 L833.0,245.6 L832.6,245.2 L832.2,244.9 L831.8,244.5 L831.4,244.1 L830.9,243.6 L830.5,243.2 L830.0,242.7 L829.5,242.2 L829.0,241.7 L828.5,241.1 L827.9,240.5 L827.3,239.9 L826.7,239.3Z"/><circle cx="826.0" cy="240.0" r="1.00"/><circle cx="833.0" cy="246.5" r="0.75"/>
<path d="M936.2,370.9 L936.2,368.6 L936.1,366.4 L936.2,364.2 L936.3,362.0 L936.5,359.9 L936.7,357.7 L937.0,355.6 L937.3,353.5 L937.7,351.4 L938.2,349.3 L938.7,347.3 L939.2,345.2 L939.9,343.1 L940.5,341.1 L941.5,338.7 L942.5,336.2 L943.5,333.8 L944.5,331.4 L945.6,329.0 L946.6,326.7 L947.7,324.3 L948.7,321.9 L949.7,319.4 L950.6,317.0 L951.5,314.5 L952.3,311.9 L953.0,309.3 L953.6,306.6 L954.0,304.3 L954.3,302.0 L954.6,299.6 L954.7,297.2 L954.8,294.8 L954.8,292.3 L954.7,289.9 L954.6,287.4 L954.3,285.0 L954.0,282.5 L953.6,280.1 L953.2,277.7 L952.6,275.4 L952.0,273.1 L951.3,271.1 L950.6,268.9 L949.7,266.8 L948.6,264.6 L947.5,262.3 L946.3,260.1 L944.9,257.8 L943.4,255.6 L941.8,253.3 L940.1,251.1 L938.2,248.9 L936.3,246.7 L934.2,244.5 L932.1,242.5 L927.9,246.7 L930.0,248.8 L931.9,250.8 L933.6,252.8 L935.3,254.8 L936.9,256.9 L938.4,259.0 L939.7,261.1 L941.0,263.1 L942.1,265.2 L943.1,267.2 L944.0,269.2 L944.8,271.1 L945.5,273.0 L946.0,274.9 L946.6,276.9 L947.1,279.1 L947.5,281.2 L947.9,283.4 L948.2,285.6 L948.4,287.9 L948.5,290.1 L948.6,292.4 L948.6,294.6 L948.5,296.9 L948.3,299.1 L948.1,301.2 L947.8,303.3 L947.4,305.4 L946.8,307.8 L946.2,310.1 L945.4,312.5 L944.6,314.8 L943.7,317.1 L942.8,319.4 L941.8,321.7 L940.8,324.1 L939.7,326.4 L938.7,328.8 L937.6,331.2 L936.5,333.7 L935.5,336.3 L934.5,338.9 L933.7,341.2 L933.0,343.4 L932.4,345.6 L931.8,347.9 L931.3,350.1 L930.9,352.4 L930.5,354.6 L930.2,356.9 L929.9,359.2 L929.7,361.6 L929.6,363.9 L929.5,366.3 L929.5,368.7 L929.6,371.1Z"/><circle cx="932.9" cy="371.0" r="3.31"/><circle cx="930.0" cy="244.6" r="3.00"/>
<path d="M931.6,243.2 L930.8,242.3 L930.0,241.3 L929.2,240.4 L928.4,239.5 L927.7,238.5 L927.0,237.6 L926.3,236.6 L925.7,235.7 L925.0,234.7 L924.5,233.8 L923.9,232.8 L923.3,231.8 L922.8,230.9 L922.2,229.8 L921.6,228.7 L921.0,227.8 L920.4,226.8 L919.7,225.8 L919.1,224.9 L918.5,223.9 L917.9,222.9 L917.4,222.0 L916.8,221.0 L916.2,220.1 L915.7,219.1 L915.2,218.1 L914.7,217.1 L914.3,216.2 L914.0,215.3 L913.7,214.3 L913.3,213.3 L913.0,212.4 L912.8,211.4 L912.5,210.4 L912.2,209.5 L912.0,208.5 L911.8,207.5 L911.6,206.6 L911.4,205.6 L911.2,204.6 L911.1,203.6 L911.0,202.6 L910.9,201.6 L910.8,200.6 L910.7,199.6 L910.6,198.6 L910.6,197.6 L910.5,196.6 L910.5,195.6 L910.5,194.6 L910.5,193.6 L910.5,192.6 L910.5,191.6 L910.5,190.7 L910.6,189.8 L910.6,188.9 L909.2,188.7 L909.1,189.7 L909.0,190.6 L908.9,191.6 L908.8,192.5 L908.8,193.5 L908.7,194.5 L908.7,195.6 L908.7,196.6 L908.7,197.6 L908.7,198.7 L908.7,199.7 L908.7,200.7 L908.8,201.8 L908.8,202.8 L908.9,203.8 L909.0,204.9 L909.1,205.9 L909.3,207.0 L909.5,208.0 L909.6,209.0 L909.8,210.0 L910.1,211.0 L910.3,212.0 L910.6,213.1 L910.8,214.1 L911.1,215.1 L911.4,216.1 L911.7,217.2 L912.2,218.3 L912.6,219.4 L913.1,220.4 L913.6,221.4 L914.1,222.5 L914.7,223.5 L915.2,224.5 L915.8,225.5 L916.4,226.5 L916.9,227.5 L917.5,228.5 L918.1,229.5 L918.6,230.5 L919.2,231.4 L919.6,232.4 L920.1,233.5 L920.7,234.6 L921.2,235.6 L921.8,236.7 L922.5,237.7 L923.1,238.8 L923.8,239.8 L924.5,240.8 L925.2,241.9 L926.0,242.9 L926.7,243.9 L927.6,245.0 L928.4,246.0Z"/><circle cx="930.0" cy="244.6" r="2.12"/><circle cx="909.9" cy="188.8" r="0.75"/>
<path d="M912.7,209.6 L913.2,208.6 L913.8,207.6 L914.3,206.6 L914.9,205.7 L915.5,204.7 L916.1,203.8 L916.7,202.9 L917.3,202.1 L917.9,201.2 L918.6,200.4 L919.3,199.6 L920.0,198.8 L920.7,198.0 L921.5,197.3 L922.1,196.6 L922.6,196.0 L923.2,195.3 L923.8,194.7 L924.4,194.1 L925.1,193.5 L925.7,193.0 L926.3,192.4 L927.0,191.9 L927.6,191.4 L928.3,190.9 L929.0,190.4 L929.7,189.9 L930.4,189.4 L929.6,188.2 L928.9,188.6 L928.1,189.0 L927.3,189.5 L926.6,190.0 L925.9,190.5 L925.2,191.0 L924.5,191.6 L923.8,192.1 L923.1,192.7 L922.5,193.3 L921.8,193.9 L921.2,194.5 L920.5,195.1 L919.9,195.7 L919.1,196.5 L918.3,197.2 L917.6,198.0 L916.8,198.8 L916.0,199.7 L915.3,200.5 L914.6,201.4 L913.9,202.3 L913.2,203.2 L912.6,204.2 L911.9,205.1 L911.3,206.1 L910.7,207.1 L910.1,208.2Z"/><circle cx="911.4" cy="208.9" r="1.50"/><circle cx="930.0" cy="188.8" r="0.75"/>
<path d="M917.4,223.8 L918.2,222.6 L919.1,221.4 L919.9,220.2 L920.7,219.1 L921.6,218.0 L922.5,217.0 L923.4,216.0 L924.4,215.0 L925.3,214.1 L926.3,213.2 L927.4,212.3 L928.4,211.5 L929.5,210.6 L930.6,209.8 L931.5,209.2 L932.5,208.6 L933.4,208.1 L934.3,207.5 L935.3,207.0 L936.2,206.5 L937.2,206.1 L938.2,205.6 L939.1,205.2 L940.1,204.8 L941.1,204.4 L942.1,204.1 L943.1,203.7 L944.2,203.4 L943.8,202.0 L942.7,202.2 L941.6,202.5 L940.6,202.8 L939.5,203.2 L938.5,203.5 L937.5,203.9 L936.4,204.3 L935.4,204.8 L934.4,205.2 L933.4,205.7 L932.4,206.2 L931.4,206.8 L930.4,207.4 L929.4,208.0 L928.2,208.7 L927.0,209.5 L925.8,210.4 L924.7,211.2 L923.6,212.1 L922.5,213.1 L921.5,214.1 L920.4,215.1 L919.4,216.1 L918.5,217.2 L917.5,218.4 L916.6,219.5 L915.6,220.7 L914.8,222.0Z"/><circle cx="916.1" cy="222.9" r="1.62"/><circle cx="944.0" cy="202.7" r="0.75"/>
<path d="M926.7,239.4 L927.4,238.3 L928.2,237.3 L929.0,236.4 L929.8,235.4 L930.7,234.5 L931.5,233.6 L932.5,232.7 L933.4,231.8 L934.4,231.0 L935.4,230.2 L936.5,229.3 L937.6,228.5 L938.7,227.8 L939.9,227.0 L940.8,226.4 L941.6,225.9 L942.5,225.4 L943.5,224.9 L944.4,224.4 L945.3,223.9 L946.3,223.5 L947.2,223.0 L948.2,222.6 L949.3,222.1 L950.3,221.7 L951.3,221.3 L952.4,220.9 L953.5,220.5 L953.1,219.1 L951.9,219.4 L950.8,219.8 L949.7,220.1 L948.6,220.5 L947.6,220.9 L946.5,221.3 L945.5,221.7 L944.5,222.2 L943.5,222.6 L942.5,223.1 L941.6,223.5 L940.6,224.0 L939.7,224.5 L938.7,225.0 L937.4,225.8 L936.2,226.5 L935.0,227.3 L933.9,228.1 L932.7,228.9 L931.7,229.8 L930.6,230.6 L929.6,231.5 L928.6,232.4 L927.6,233.4 L926.7,234.4 L925.8,235.4 L924.9,236.4 L924.1,237.4Z"/><circle cx="925.4" cy="238.4" r="1.62"/><circle cx="953.3" cy="219.8" r="0.75"/>
<path d="M939.0,254.9 L939.6,254.0 L940.3,253.2 L941.0,252.3 L941.7,251.5 L942.4,250.6 L943.1,249.8 L943.8,249.0 L944.5,248.2 L945.3,247.4 L946.1,246.7 L946.9,245.9 L947.7,245.2 L948.5,244.5 L949.3,243.9 L950.0,243.3 L950.7,242.8 L951.4,242.3 L952.1,241.8 L952.8,241.3 L953.6,240.9 L954.3,240.4 L955.0,240.0 L955.8,239.5 L956.6,239.1 L957.4,238.7 L958.2,238.3 L959.0,237.9 L959.8,237.5 L959.2,236.1 L958.3,236.5 L957.5,236.8 L956.6,237.2 L955.8,237.6 L955.0,238.0 L954.2,238.4 L953.4,238.8 L952.6,239.2 L951.8,239.7 L951.0,240.1 L950.3,240.6 L949.5,241.1 L948.8,241.6 L948.1,242.1 L947.1,242.8 L946.2,243.5 L945.3,244.2 L944.5,244.9 L943.6,245.7 L942.8,246.4 L941.9,247.2 L941.1,248.0 L940.4,248.8 L939.6,249.6 L938.8,250.5 L938.1,251.3 L937.4,252.1 L936.6,252.9Z"/><circle cx="937.8" cy="253.9" r="1.50"/><circle cx="959.5" cy="236.8" r="0.75"/>
<path d="M946.9,266.8 L947.5,266.2 L948.0,265.5 L948.5,264.9 L949.0,264.4 L949.6,263.8 L950.2,263.2 L950.7,262.7 L951.3,262.2 L952.0,261.7 L952.6,261.3 L953.2,260.8 L953.9,260.4 L954.6,260.0 L955.3,259.7 L954.7,258.3 L953.9,258.6 L953.1,259.0 L952.4,259.4 L951.6,259.8 L950.9,260.2 L950.2,260.7 L949.5,261.2 L948.8,261.7 L948.2,262.2 L947.5,262.8 L946.9,263.3 L946.2,263.9 L945.6,264.6 L945.1,265.2Z"/><circle cx="946.0" cy="266.0" r="1.25"/><circle cx="955.0" cy="259.0" r="0.75"/>
<path d="M923.4,233.1 L922.0,232.1 L920.5,231.1 L919.1,230.1 L917.6,229.1 L916.2,228.2 L914.7,227.3 L913.2,226.4 L911.7,225.5 L910.2,224.6 L908.7,223.8 L907.2,223.0 L905.7,222.1 L904.2,221.3 L902.7,220.5 L901.6,219.9 L900.5,219.3 L899.3,218.7 L898.2,218.1 L897.1,217.6 L895.9,217.0 L894.8,216.5 L893.6,216.0 L892.4,215.4 L891.2,215.0 L890.0,214.5 L888.7,214.0 L887.4,213.5 L886.1,213.1 L885.5,214.5 L886.8,215.0 L888.1,215.5 L889.3,216.0 L890.5,216.6 L891.7,217.1 L892.8,217.7 L893.9,218.2 L895.1,218.8 L896.1,219.4 L897.2,220.0 L898.3,220.6 L899.4,221.2 L900.4,221.9 L901.5,222.5 L903.0,223.4 L904.4,224.3 L905.9,225.2 L907.3,226.1 L908.8,227.0 L910.2,227.9 L911.6,228.9 L913.1,229.8 L914.5,230.8 L915.9,231.7 L917.2,232.7 L918.6,233.8 L919.9,234.8 L921.2,235.9Z"/><circle cx="922.3" cy="234.5" r="1.75"/><circle cx="885.8" cy="213.8" r="0.75"/>
<path d="M907.6,222.7 L906.8,221.7 L906.1,220.8 L905.3,219.8 L904.6,218.8 L903.9,217.9 L903.1,216.9 L902.4,215.8 L901.7,214.8 L901.0,213.8 L900.3,212.7 L899.6,211.7 L898.9,210.6 L898.2,209.6 L897.4,208.5 L896.2,209.3 L896.8,210.4 L897.4,211.5 L898.1,212.6 L898.7,213.7 L899.4,214.8 L900.0,215.9 L900.6,217.0 L901.3,218.1 L902.0,219.2 L902.6,220.2 L903.3,221.3 L904.0,222.3 L904.7,223.3 L905.4,224.3Z"/><circle cx="906.5" cy="223.5" r="1.38"/><circle cx="896.8" cy="208.9" r="0.75"/>
<path d="M929.9,242.5 L929.0,242.5 L928.2,242.6 L927.3,242.6 L926.5,242.7 L925.6,242.7 L924.7,242.8 L923.9,242.8 L923.0,242.9 L922.1,242.9 L921.2,243.0 L920.3,243.0 L919.4,243.0 L918.4,243.0 L917.5,243.1 L915.5,243.1 L913.5,243.1 L911.5,243.0 L909.6,243.0 L907.6,242.9 L905.7,242.8 L903.7,242.7 L901.8,242.6 L899.9,242.5 L898.0,242.4 L896.1,242.3 L894.2,242.2 L892.3,242.1 L890.4,242.0 L888.4,241.9 L886.4,241.8 L884.4,241.8 L882.4,241.7 L880.5,241.7 L878.5,241.7 L876.6,241.6 L874.7,241.6 L872.7,241.5 L870.8,241.5 L868.9,241.4 L867.0,241.3 L865.1,241.2 L863.2,241.1 L862.2,240.9 L861.1,240.8 L860.0,240.6 L859.0,240.5 L858.0,240.3 L857.0,240.0 L856.0,239.8 L855.0,239.5 L854.1,239.2 L853.2,238.9 L852.3,238.5 L851.5,238.2 L850.8,237.7 L850.1,237.3 L849.5,236.8 L849.0,236.3 L848.4,235.7 L848.0,235.1 L847.5,234.5 L847.1,233.9 L846.7,233.2 L846.4,232.6 L846.1,231.9 L845.8,231.2 L845.5,230.5 L845.3,229.8 L845.0,229.1 L844.8,228.4 L843.4,228.8 L843.6,229.5 L843.8,230.3 L844.0,231.1 L844.3,231.8 L844.6,232.6 L844.9,233.3 L845.3,234.0 L845.7,234.8 L846.1,235.5 L846.6,236.2 L847.1,236.8 L847.7,237.5 L848.3,238.1 L848.9,238.7 L849.8,239.3 L850.6,239.8 L851.5,240.3 L852.5,240.7 L853.4,241.1 L854.4,241.4 L855.4,241.8 L856.5,242.0 L857.5,242.3 L858.6,242.5 L859.7,242.8 L860.8,243.0 L861.8,243.1 L863.0,243.3 L864.9,243.5 L866.8,243.7 L868.8,243.8 L870.7,244.0 L872.6,244.1 L874.6,244.2 L876.5,244.3 L878.4,244.4 L880.4,244.5 L882.3,244.6 L884.3,244.7 L886.3,244.8 L888.2,244.9 L890.2,245.0 L892.1,245.2 L893.9,245.3 L895.8,245.5 L897.7,245.7 L899.6,245.8 L901.5,246.0 L903.5,246.2 L905.4,246.3 L907.4,246.5 L909.4,246.6 L911.4,246.7 L913.4,246.8 L915.4,246.9 L917.5,246.9 L918.5,247.0 L919.4,247.0 L920.4,247.0 L921.3,246.9 L922.2,246.9 L923.1,246.9 L924.0,246.9 L924.9,246.9 L925.8,246.9 L926.7,246.8 L927.5,246.8 L928.4,246.8 L929.2,246.8 L930.1,246.7Z"/><circle cx="930.0" cy="244.6" r="2.12"/><circle cx="844.1" cy="228.6" r="0.75"/>
<path d="M885.7,242.4 L884.9,241.4 L884.1,240.4 L883.3,239.4 L882.5,238.4 L881.8,237.4 L881.0,236.4 L880.3,235.4 L879.5,234.3 L878.8,233.3 L878.1,232.3 L877.4,231.2 L876.8,230.2 L876.2,229.1 L875.6,228.1 L874.2,228.7 L874.8,229.9 L875.3,231.0 L875.9,232.1 L876.5,233.2 L877.2,234.3 L877.8,235.4 L878.5,236.5 L879.2,237.6 L879.9,238.7 L880.6,239.8 L881.3,240.9 L882.0,241.9 L882.8,243.0 L883.5,244.0Z"/><circle cx="884.6" cy="243.2" r="1.38"/><circle cx="874.9" cy="228.4" r="0.75"/>
<path d="M904.3,243.5 L903.3,244.2 L902.3,244.9 L901.3,245.5 L900.2,246.0 L899.2,246.5 L898.2,247.0 L897.2,247.4 L896.2,247.7 L895.2,248.0 L894.1,248.3 L893.1,248.4 L892.1,248.6 L891.0,248.7 L890.0,248.8 L890.0,250.2 L891.1,250.3 L892.2,250.2 L893.3,250.1 L894.4,250.0 L895.6,249.8 L896.7,249.6 L897.8,249.3 L898.9,248.9 L900.1,248.5 L901.2,248.0 L902.3,247.5 L903.5,246.9 L904.6,246.2 L905.7,245.5Z"/><circle cx="905.0" cy="244.5" r="1.25"/><circle cx="890.0" cy="249.5" r="0.75"/>
<path d="M861.3,240.8 L860.3,241.4 L859.2,242.0 L858.2,242.5 L857.1,242.9 L856.0,243.3 L854.8,243.6 L853.7,243.9 L852.5,244.1 L851.3,244.2 L850.1,244.3 L848.9,244.3 L847.6,244.3 L846.4,244.2 L845.1,244.1 L844.5,244.0 L843.9,243.9 L843.4,243.7 L842.8,243.6 L842.2,243.4 L841.7,243.3 L841.2,243.1 L840.7,242.9 L840.2,242.7 L839.7,242.5 L839.3,242.2 L838.8,242.0 L838.4,241.7 L837.9,241.4 L837.1,242.6 L837.5,242.9 L838.0,243.3 L838.5,243.6 L839.0,243.9 L839.5,244.2 L840.0,244.4 L840.6,244.7 L841.1,244.9 L841.7,245.1 L842.3,245.3 L842.9,245.5 L843.5,245.6 L844.2,245.8 L844.9,245.9 L846.2,246.2 L847.5,246.3 L848.8,246.4 L850.1,246.4 L851.5,246.4 L852.8,246.3 L854.1,246.1 L855.4,245.9 L856.6,245.6 L857.9,245.3 L859.1,244.8 L860.3,244.4 L861.5,243.8 L862.7,243.2Z"/><circle cx="862.0" cy="242.0" r="1.38"/><circle cx="837.5" cy="242.0" r="0.75"/>
</g>

<path class="ol" d="M742.3,383.6 L743.3,373 C744.5,365 745,358 745,351.5 C745,344 744.3,337 742.8,330.1 C741.5,324.5 739.8,319.5 737.8,314.0 C736.7,313.1 734.1,311.4 731.0,308.8 C727.9,306.2 723.4,302.6 719.1,298.6 C714.9,294.6 709.5,290.1 705.5,285.0 C701.5,279.9 698.0,274.2 695.3,268.0 C692.6,261.8 690.6,254.3 689.5,247.6 C688.4,240.9 688.0,234.3 688.5,228.0 C689.0,221.7 690.6,216.3 692.5,210.0 C694.4,203.7 695.9,195.9 700.0,190.0 C704.1,184.1 710.3,179.2 717.1,174.8 C723.9,170.4 735.1,165.9 741.0,163.3 C746.9,160.8 747.8,160.3 752.2,159.5 C756.7,158.7 762.2,157.9 767.7,158.3 C773.2,158.8 778.8,160.3 785.4,162.2 C792.0,164.1 800.9,167.8 807.5,169.9 C814.1,172.0 820.4,173.6 825.3,174.6 C830.2,175.6 832.2,176.4 837.0,176.2 C841.8,176.0 847.8,175.0 854.0,173.2 C860.2,171.4 867.4,167.9 874.0,165.5 C880.6,163.1 887.6,160.2 893.9,158.8 C900.2,157.4 905.8,156.6 911.7,156.8 C917.6,157.0 924.2,158.5 929.4,159.9 C934.6,161.3 937.4,161.8 942.7,165.5 C948.1,169.2 955.4,174.8 961.5,182.1 C967.6,189.4 975.3,201.3 979.5,209.5 C983.7,217.7 985.5,224.1 986.5,231.0 C987.5,237.9 986.9,244.3 985.5,251.0 C984.1,257.7 981.2,265.2 978.0,271.4 C974.8,277.6 970.6,283.3 966.1,288.4 C961.6,293.5 955.6,298.3 950.8,302.0 C946.0,305.7 940.6,307.9 937.2,310.5 C933.8,313.1 931.5,316.2 930.4,317.3 C928,323 926.5,328 925.4,332.8 C924,339 923,345 922.7,351.5 L922.7,373 L924,392"/>
<g stroke="#111" stroke-width="1.15" fill="none">
<path transform="translate(801.1,210.7)" d="M-3.2,-3 L3.2,3 M3.2,-3 L-3.2,3"/>
<path transform="translate(812.8,210.7)" d="M-3.2,-3 L3.2,3 M3.2,-3 L-3.2,3"/>
<path transform="translate(824.3,210.7)" d="M-3.2,-3 L3.2,3 M3.2,-3 L-3.2,3"/>
<path transform="translate(836,210.7)" d="M-3.2,-3 L3.2,3 M3.2,-3 L-3.2,3"/>
<path transform="translate(847.4,210.7)" d="M-3.2,-3 L3.2,3 M3.2,-3 L-3.2,3"/>
<path transform="translate(859.4,210.7)" d="M-3.2,-3 L3.2,3 M3.2,-3 L-3.2,3"/>
<path transform="translate(801.1,219.8)" d="M-3.2,-3 L3.2,3 M3.2,-3 L-3.2,3"/>
<path transform="translate(812.8,219.8)" d="M-3.2,-3 L3.2,3 M3.2,-3 L-3.2,3"/>
<path transform="translate(824.3,219.8)" d="M-3.2,-3 L3.2,3 M3.2,-3 L-3.2,3"/>
<path transform="translate(836,219.8)" d="M-3.2,-3 L3.2,3 M3.2,-3 L-3.2,3"/>
<path transform="translate(847.4,219.8)" d="M-3.2,-3 L3.2,3 M3.2,-3 L-3.2,3"/>
<path transform="translate(859.4,219.8)" d="M-3.2,-3 L3.2,3 M3.2,-3 L-3.2,3"/>
</g>
<use href="#oa" transform="translate(742,176.2) rotate(-39.7) scale(1.035,1)"/>
<use href="#oa" transform="translate(837,176.8) scale(1.02,0.96)"/>
<use href="#oa" transform="translate(944.9,178.2) rotate(38.5) scale(1.025,1)"/>
<path class="ld" d="M937,98.5 L842,215.3"/><circle cx="842" cy="215.4" r="2.8"/>
<path class="ld" d="M778.1,228.2 L829.2,312.7 L833,239.9"/><circle cx="778.1" cy="228.2" r="2.6"/><circle cx="833" cy="239.9" r="2.6"/>
<text class="b" x="774.3" y="113" textLength="125" lengthAdjust="spacingAndGlyphs">MECHANICAL LOADING</text>
<text class="t" x="943" y="67.9" text-anchor="middle">Residual area</text>
<text class="t" x="943" y="79.8" text-anchor="middle">of compression</text>
<text class="t" x="943" y="91.7" text-anchor="middle">and necrosis</text>
<text class="t" x="835.6" y="327.2" text-anchor="middle">Reossification of resorbed areas</text>
</g>
</svg>
</body></html>
